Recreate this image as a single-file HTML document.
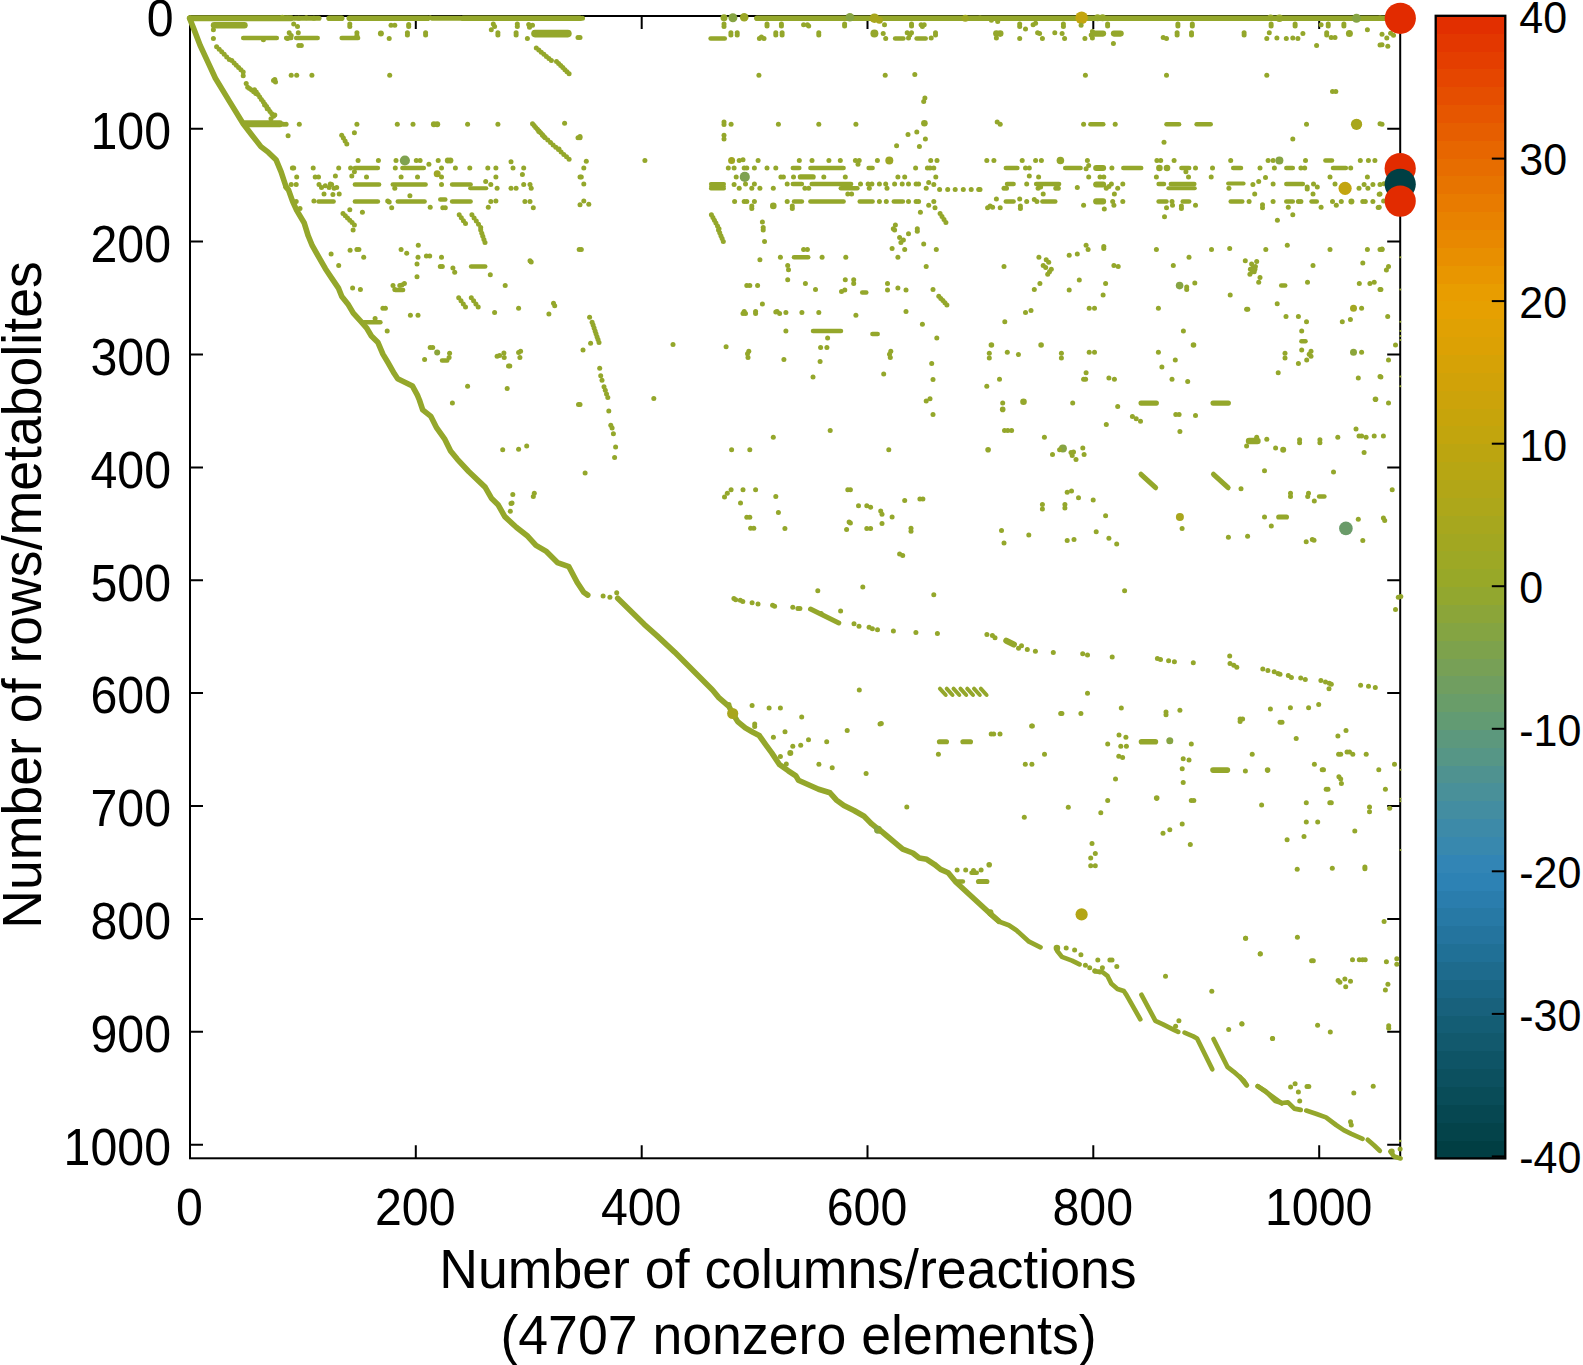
<!DOCTYPE html>
<html><head><meta charset="utf-8"><title>Sparse matrix</title>
<style>
html,body{margin:0;padding:0;background:#fff}
svg{display:block}
text{font-family:"Liberation Sans",Arial,Helvetica,sans-serif;font-size:48.3px;fill:#000}
text.cb{font-size:43px}
text.lab{font-size:53px}
.s{stroke:#94a72b;stroke-linecap:round;stroke-linejoin:round;fill:none}
</style></head><body>
<svg width="1583" height="1365" viewBox="0 0 1583 1365">
<rect width="1583" height="1365" fill="#fff"/>
<g shape-rendering="crispEdges">
<rect x="1435.7" y="15.80" width="69.59999999999991" height="18.35" fill="rgb(226,47,0)"/>
<rect x="1435.7" y="33.65" width="69.59999999999991" height="18.35" fill="rgb(227,55,0)"/>
<rect x="1435.7" y="51.51" width="69.59999999999991" height="18.35" fill="rgb(228,62,0)"/>
<rect x="1435.7" y="69.36" width="69.59999999999991" height="18.35" fill="rgb(229,70,0)"/>
<rect x="1435.7" y="87.21" width="69.59999999999991" height="18.35" fill="rgb(229,78,0)"/>
<rect x="1435.7" y="105.07" width="69.59999999999991" height="18.35" fill="rgb(230,86,0)"/>
<rect x="1435.7" y="122.92" width="69.59999999999991" height="18.35" fill="rgb(230,94,0)"/>
<rect x="1435.7" y="140.77" width="69.59999999999991" height="18.35" fill="rgb(231,102,0)"/>
<rect x="1435.7" y="158.63" width="69.59999999999991" height="18.35" fill="rgb(231,109,0)"/>
<rect x="1435.7" y="176.48" width="69.59999999999991" height="18.35" fill="rgb(231,116,0)"/>
<rect x="1435.7" y="194.33" width="69.59999999999991" height="18.35" fill="rgb(232,123,0)"/>
<rect x="1435.7" y="212.18" width="69.59999999999991" height="18.35" fill="rgb(232,130,0)"/>
<rect x="1435.7" y="230.04" width="69.59999999999991" height="18.35" fill="rgb(232,136,0)"/>
<rect x="1435.7" y="247.89" width="69.59999999999991" height="18.35" fill="rgb(232,143,0)"/>
<rect x="1435.7" y="265.74" width="69.59999999999991" height="18.35" fill="rgb(232,150,0)"/>
<rect x="1435.7" y="283.60" width="69.59999999999991" height="18.35" fill="rgb(232,157,0)"/>
<rect x="1435.7" y="301.45" width="69.59999999999991" height="18.35" fill="rgb(230,160,1)"/>
<rect x="1435.7" y="319.30" width="69.59999999999991" height="18.35" fill="rgb(224,161,3)"/>
<rect x="1435.7" y="337.16" width="69.59999999999991" height="18.35" fill="rgb(220,161,4)"/>
<rect x="1435.7" y="355.01" width="69.59999999999991" height="18.35" fill="rgb(214,162,6)"/>
<rect x="1435.7" y="372.86" width="69.59999999999991" height="18.35" fill="rgb(209,162,8)"/>
<rect x="1435.7" y="390.72" width="69.59999999999991" height="18.35" fill="rgb(204,163,10)"/>
<rect x="1435.7" y="408.57" width="69.59999999999991" height="18.35" fill="rgb(199,164,11)"/>
<rect x="1435.7" y="426.42" width="69.59999999999991" height="18.35" fill="rgb(194,165,13)"/>
<rect x="1435.7" y="444.28" width="69.59999999999991" height="18.35" fill="rgb(188,165,16)"/>
<rect x="1435.7" y="462.13" width="69.59999999999991" height="18.35" fill="rgb(183,166,19)"/>
<rect x="1435.7" y="479.98" width="69.59999999999991" height="18.35" fill="rgb(178,166,23)"/>
<rect x="1435.7" y="497.83" width="69.59999999999991" height="18.35" fill="rgb(173,167,26)"/>
<rect x="1435.7" y="515.69" width="69.59999999999991" height="18.35" fill="rgb(167,167,30)"/>
<rect x="1435.7" y="533.54" width="69.59999999999991" height="18.35" fill="rgb(162,167,33)"/>
<rect x="1435.7" y="551.39" width="69.59999999999991" height="18.35" fill="rgb(157,168,37)"/>
<rect x="1435.7" y="569.25" width="69.59999999999991" height="18.35" fill="rgb(152,168,40)"/>
<rect x="1435.7" y="587.10" width="69.59999999999991" height="18.35" fill="rgb(146,167,47)"/>
<rect x="1435.7" y="604.95" width="69.59999999999991" height="18.35" fill="rgb(139,165,57)"/>
<rect x="1435.7" y="622.81" width="69.59999999999991" height="18.35" fill="rgb(132,164,66)"/>
<rect x="1435.7" y="640.66" width="69.59999999999991" height="18.35" fill="rgb(125,162,76)"/>
<rect x="1435.7" y="658.51" width="69.59999999999991" height="18.35" fill="rgb(119,160,86)"/>
<rect x="1435.7" y="676.37" width="69.59999999999991" height="18.35" fill="rgb(112,158,96)"/>
<rect x="1435.7" y="694.22" width="69.59999999999991" height="18.35" fill="rgb(105,157,105)"/>
<rect x="1435.7" y="712.07" width="69.59999999999991" height="18.35" fill="rgb(98,155,115)"/>
<rect x="1435.7" y="729.93" width="69.59999999999991" height="18.35" fill="rgb(92,152,125)"/>
<rect x="1435.7" y="747.78" width="69.59999999999991" height="18.35" fill="rgb(86,150,134)"/>
<rect x="1435.7" y="765.63" width="69.59999999999991" height="18.35" fill="rgb(79,146,144)"/>
<rect x="1435.7" y="783.48" width="69.59999999999991" height="18.35" fill="rgb(73,144,153)"/>
<rect x="1435.7" y="801.34" width="69.59999999999991" height="18.35" fill="rgb(67,141,161)"/>
<rect x="1435.7" y="819.19" width="69.59999999999991" height="18.35" fill="rgb(61,138,168)"/>
<rect x="1435.7" y="837.04" width="69.59999999999991" height="18.35" fill="rgb(56,136,174)"/>
<rect x="1435.7" y="854.90" width="69.59999999999991" height="18.35" fill="rgb(50,133,181)"/>
<rect x="1435.7" y="872.75" width="69.59999999999991" height="18.35" fill="rgb(45,130,180)"/>
<rect x="1435.7" y="890.60" width="69.59999999999991" height="18.35" fill="rgb(42,125,173)"/>
<rect x="1435.7" y="908.46" width="69.59999999999991" height="18.35" fill="rgb(39,121,165)"/>
<rect x="1435.7" y="926.31" width="69.59999999999991" height="18.35" fill="rgb(36,116,158)"/>
<rect x="1435.7" y="944.16" width="69.59999999999991" height="18.35" fill="rgb(32,112,150)"/>
<rect x="1435.7" y="962.02" width="69.59999999999991" height="18.35" fill="rgb(30,107,141)"/>
<rect x="1435.7" y="979.87" width="69.59999999999991" height="18.35" fill="rgb(26,102,133)"/>
<rect x="1435.7" y="997.72" width="69.59999999999991" height="18.35" fill="rgb(24,97,124)"/>
<rect x="1435.7" y="1015.58" width="69.59999999999991" height="18.35" fill="rgb(20,93,116)"/>
<rect x="1435.7" y="1033.43" width="69.59999999999991" height="18.35" fill="rgb(18,89,109)"/>
<rect x="1435.7" y="1051.28" width="69.59999999999991" height="18.35" fill="rgb(14,84,102)"/>
<rect x="1435.7" y="1069.13" width="69.59999999999991" height="18.35" fill="rgb(12,80,95)"/>
<rect x="1435.7" y="1086.99" width="69.59999999999991" height="18.35" fill="rgb(9,76,88)"/>
<rect x="1435.7" y="1104.84" width="69.59999999999991" height="18.35" fill="rgb(6,71,81)"/>
<rect x="1435.7" y="1122.69" width="69.59999999999991" height="18.35" fill="rgb(4,67,74)"/>
<rect x="1435.7" y="1140.55" width="69.59999999999991" height="18.35" fill="rgb(1,62,67)"/>
</g>
<g stroke="#000" stroke-width="2" fill="none">
<rect x="190.0" y="16.0" width="1210.2" height="1142.3" fill="none"/>
<path d="M415.8 1158.3v-13.0M415.8 16.0v13.0"/>
<path d="M641.7 1158.3v-13.0M641.7 16.0v13.0"/>
<path d="M867.5 1158.3v-13.0M867.5 16.0v13.0"/>
<path d="M1093.3 1158.3v-13.0M1093.3 16.0v13.0"/>
<path d="M1319.2 1158.3v-13.0M1319.2 16.0v13.0"/>
<path d="M190.0 128.7h13.0M1400.2 128.7h-13.0"/>
<path d="M190.0 241.6h13.0M1400.2 241.6h-13.0"/>
<path d="M190.0 354.5h13.0M1400.2 354.5h-13.0"/>
<path d="M190.0 467.4h13.0M1400.2 467.4h-13.0"/>
<path d="M190.0 580.2h13.0M1400.2 580.2h-13.0"/>
<path d="M190.0 693.1h13.0M1400.2 693.1h-13.0"/>
<path d="M190.0 806.0h13.0M1400.2 806.0h-13.0"/>
<path d="M190.0 918.9h13.0M1400.2 918.9h-13.0"/>
<path d="M190.0 1031.8h13.0M1400.2 1031.8h-13.0"/>
<path d="M190.0 1144.7h13.0M1400.2 1144.7h-13.0"/>
<path d="M1505.3 1156.4h-13.5"/>
<path d="M1505.3 1013.9h-13.5"/>
<path d="M1505.3 871.3h-13.5"/>
<path d="M1505.3 728.8h-13.5"/>
<path d="M1505.3 586.2h-13.5"/>
<path d="M1505.3 443.7h-13.5"/>
<path d="M1505.3 301.1h-13.5"/>
<path d="M1505.3 158.6h-13.5"/>
<path d="M1505.3 16.0h-13.5"/>
<rect x="1435.7" y="15.8" width="69.6" height="1142.6" fill="none" stroke-width="2.3"/>
</g>
<g fill="#94a72b">
<polyline class="s" points="189.6,18.2 193.9,29.1 200.2,45.5 207.8,61.9 215.4,78.3 229.3,101.1 243.2,123.8 252.0,135.2 260.9,146.6 268.4,152.4 276.0,159.7 281.1,171.8 286.1,187.0" stroke-width="5.6"/>
<line class="s" x1="190.1" y1="18.3" x2="291.2" y2="18.3" stroke-width="6.1"/>
<line class="s" x1="295.0" y1="18.3" x2="319.0" y2="18.3" stroke-width="5.1"/>
<line class="s" x1="329.1" y1="18.3" x2="341.7" y2="18.3" stroke-width="5.6"/>
<line class="s" x1="349.3" y1="18.3" x2="427.6" y2="18.3" stroke-width="5.6"/>
<line class="s" x1="432.7" y1="18.3" x2="460.5" y2="18.3" stroke-width="5.1"/>
<line class="s" x1="463.0" y1="18.3" x2="580.0" y2="18.3" stroke-width="5.6"/>
<circle cx="282.3" cy="17.2" r="2.5"/>
<circle cx="287.4" cy="18.2" r="2.5"/>
<circle cx="298.8" cy="18.2" r="2.5"/>
<circle cx="306.3" cy="17.7" r="2.5"/>
<circle cx="313.9" cy="18.2" r="2.5"/>
<circle cx="430.2" cy="17.7" r="2.5"/>
<line class="s" x1="214.1" y1="25.3" x2="244.4" y2="25.3" stroke-width="6.6"/>
<circle cx="293.7" cy="24.0" r="2.5"/>
<circle cx="297.5" cy="26.5" r="2.5"/>
<circle cx="349.8" cy="24.0" r="2.5"/>
<circle cx="349.8" cy="26.5" r="2.5"/>
<circle cx="391.0" cy="25.3" r="2.5"/>
<circle cx="394.8" cy="25.3" r="2.5"/>
<circle cx="408.7" cy="24.5" r="2.5"/>
<circle cx="408.7" cy="26.5" r="2.5"/>
<circle cx="493.3" cy="24.0" r="2.5"/>
<circle cx="494.6" cy="26.5" r="2.5"/>
<circle cx="517.3" cy="24.0" r="2.5"/>
<circle cx="517.3" cy="26.5" r="2.5"/>
<circle cx="528.7" cy="24.5" r="2.5"/>
<circle cx="532.5" cy="25.3" r="2.5"/>
<circle cx="529.5" cy="27.3" r="2.5"/>
<circle cx="289.2" cy="32.8" r="2.5"/>
<circle cx="298.3" cy="32.8" r="2.5"/>
<circle cx="356.9" cy="32.8" r="2.5"/>
<circle cx="407.4" cy="32.8" r="2.5"/>
<circle cx="407.4" cy="34.9" r="2.5"/>
<circle cx="425.6" cy="32.8" r="2.5"/>
<circle cx="425.6" cy="34.9" r="2.5"/>
<circle cx="497.9" cy="32.8" r="2.5"/>
<circle cx="497.9" cy="34.9" r="2.5"/>
<circle cx="516.1" cy="32.8" r="2.5"/>
<circle cx="516.1" cy="34.9" r="2.5"/>
<circle cx="213.4" cy="29.8" r="2.5"/>
<circle cx="380.9" cy="33.6" r="3.0"/>
<line class="s" x1="535.0" y1="33.6" x2="567.9" y2="33.6" stroke-width="7.6"/>
<circle cx="213.4" cy="38.4" r="2.5"/>
<circle cx="263.4" cy="39.7" r="2.5"/>
<circle cx="291.2" cy="35.4" r="2.5"/>
<circle cx="389.2" cy="38.4" r="2.5"/>
<circle cx="527.4" cy="38.4" r="2.5"/>
<circle cx="578.0" cy="37.4" r="2.5"/>
<circle cx="287.4" cy="38.4" r="2.5"/>
<circle cx="491.3" cy="29.8" r="2.5"/>
<line class="s" x1="243.2" y1="37.9" x2="276.8" y2="37.9" stroke-width="4.5"/>
<line class="s" x1="286.1" y1="37.9" x2="291.2" y2="37.9" stroke-width="4.5"/>
<line class="s" x1="296.2" y1="37.9" x2="317.7" y2="37.9" stroke-width="4.5"/>
<line class="s" x1="341.7" y1="37.9" x2="358.1" y2="37.9" stroke-width="4.5"/>
<circle cx="356.9" cy="35.4" r="2.5"/>
<circle cx="298.8" cy="45.5" r="2.5"/>
<circle cx="301.3" cy="45.5" r="2.5"/>
<circle cx="216.6" cy="46.7" r="2.5"/>
<circle cx="219.2" cy="49.3" r="2.5"/>
<circle cx="221.7" cy="51.8" r="2.5"/>
<circle cx="224.2" cy="54.3" r="2.5"/>
<circle cx="226.7" cy="56.9" r="2.5"/>
<circle cx="229.3" cy="59.4" r="2.5"/>
<circle cx="231.8" cy="60.6" r="2.5"/>
<circle cx="234.1" cy="62.9" r="2.5"/>
<circle cx="236.3" cy="65.2" r="2.5"/>
<circle cx="238.6" cy="67.5" r="2.5"/>
<circle cx="240.9" cy="69.7" r="2.5"/>
<circle cx="243.2" cy="72.0" r="2.5"/>
<circle cx="243.2" cy="75.8" r="2.5"/>
<circle cx="246.2" cy="83.4" r="2.5"/>
<circle cx="247.7" cy="87.2" r="2.5"/>
<circle cx="249.5" cy="88.4" r="2.5"/>
<circle cx="251.6" cy="90.1" r="2.5"/>
<circle cx="253.7" cy="91.8" r="2.5"/>
<circle cx="255.8" cy="93.5" r="2.5"/>
<circle cx="254.5" cy="89.7" r="2.5"/>
<circle cx="256.3" cy="92.1" r="2.5"/>
<circle cx="258.0" cy="94.5" r="2.5"/>
<circle cx="259.7" cy="96.9" r="2.5"/>
<circle cx="261.4" cy="99.4" r="2.5"/>
<circle cx="263.2" cy="101.8" r="2.5"/>
<circle cx="264.9" cy="104.2" r="2.5"/>
<circle cx="266.6" cy="106.6" r="2.5"/>
<circle cx="268.3" cy="109.0" r="2.5"/>
<circle cx="270.0" cy="111.4" r="2.5"/>
<circle cx="271.8" cy="113.8" r="2.5"/>
<circle cx="273.5" cy="116.2" r="2.5"/>
<circle cx="267.2" cy="108.7" r="2.5"/>
<circle cx="271.0" cy="118.8" r="2.5"/>
<circle cx="274.8" cy="115.0" r="2.5"/>
<circle cx="264.6" cy="104.9" r="2.5"/>
<circle cx="274.8" cy="79.6" r="2.5"/>
<circle cx="275.5" cy="82.1" r="2.5"/>
<circle cx="273.5" cy="80.4" r="2.5"/>
<circle cx="291.2" cy="75.3" r="2.5"/>
<circle cx="296.7" cy="75.3" r="2.5"/>
<circle cx="311.9" cy="75.3" r="2.5"/>
<circle cx="389.7" cy="75.3" r="2.5"/>
<line class="s" x1="245.2" y1="123.8" x2="279.8" y2="123.8" stroke-width="7.1"/>
<circle cx="283.6" cy="124.3" r="2.5"/>
<circle cx="286.1" cy="124.3" r="2.5"/>
<circle cx="299.3" cy="124.3" r="2.5"/>
<circle cx="356.9" cy="124.3" r="2.5"/>
<circle cx="397.3" cy="124.3" r="2.5"/>
<circle cx="413.0" cy="124.3" r="2.5"/>
<circle cx="467.6" cy="124.3" r="2.5"/>
<circle cx="497.9" cy="124.3" r="2.5"/>
<circle cx="564.6" cy="123.3" r="2.5"/>
<circle cx="433.9" cy="124.3" r="3.0"/>
<circle cx="437.2" cy="124.3" r="3.0"/>
<circle cx="288.1" cy="135.7" r="2.5"/>
<circle cx="354.4" cy="132.7" r="2.5"/>
<circle cx="341.7" cy="135.2" r="2.5"/>
<circle cx="343.4" cy="138.1" r="2.5"/>
<circle cx="345.1" cy="141.1" r="2.5"/>
<circle cx="346.8" cy="144.0" r="2.5"/>
<circle cx="536.3" cy="48.0" r="2.5"/>
<circle cx="538.8" cy="50.1" r="2.5"/>
<circle cx="541.3" cy="52.2" r="2.5"/>
<circle cx="543.9" cy="54.3" r="2.5"/>
<circle cx="546.4" cy="56.4" r="2.5"/>
<circle cx="548.9" cy="58.5" r="2.5"/>
<circle cx="551.4" cy="60.6" r="2.5"/>
<circle cx="556.5" cy="61.4" r="2.5"/>
<circle cx="558.6" cy="63.5" r="2.5"/>
<circle cx="560.7" cy="65.5" r="2.5"/>
<circle cx="562.8" cy="67.6" r="2.5"/>
<circle cx="564.9" cy="69.7" r="2.5"/>
<circle cx="567.0" cy="71.7" r="2.5"/>
<circle cx="569.1" cy="73.8" r="2.5"/>
<circle cx="532.5" cy="123.8" r="2.5"/>
<circle cx="534.1" cy="125.6" r="2.5"/>
<circle cx="535.7" cy="127.4" r="2.5"/>
<circle cx="537.4" cy="129.2" r="2.5"/>
<circle cx="539.0" cy="131.0" r="2.5"/>
<circle cx="540.6" cy="132.8" r="2.5"/>
<circle cx="542.2" cy="134.6" r="2.5"/>
<circle cx="543.9" cy="136.4" r="2.5"/>
<circle cx="545.1" cy="137.7" r="2.5"/>
<circle cx="547.8" cy="140.1" r="2.5"/>
<circle cx="550.5" cy="142.5" r="2.5"/>
<circle cx="553.1" cy="144.9" r="2.5"/>
<circle cx="555.8" cy="147.3" r="2.5"/>
<circle cx="558.5" cy="149.6" r="2.5"/>
<circle cx="561.1" cy="152.0" r="2.5"/>
<circle cx="563.8" cy="154.4" r="2.5"/>
<circle cx="566.5" cy="156.8" r="2.5"/>
<circle cx="569.1" cy="159.2" r="2.5"/>
<circle cx="538.8" cy="131.4" r="2.5"/>
<circle cx="542.6" cy="135.2" r="2.5"/>
<circle cx="559.0" cy="149.1" r="2.5"/>
<circle cx="578.0" cy="137.7" r="2.5"/>
<circle cx="580.0" cy="136.4" r="2.5"/>
<circle cx="358.1" cy="160.5" r="2.5"/>
<circle cx="378.4" cy="160.5" r="2.5"/>
<circle cx="396.0" cy="160.5" r="2.5"/>
<circle cx="416.3" cy="160.5" r="2.5"/>
<circle cx="420.1" cy="160.5" r="2.5"/>
<circle cx="438.2" cy="160.5" r="2.5"/>
<circle cx="511.0" cy="161.7" r="2.5"/>
<circle cx="404.9" cy="160.5" r="5.1" fill="#7fa24f"/>
<circle cx="447.8" cy="160.5" r="3.0"/>
<circle cx="450.4" cy="160.5" r="3.0"/>
<circle cx="292.4" cy="168.0" r="2.5"/>
<circle cx="293.7" cy="168.0" r="2.5"/>
<circle cx="313.2" cy="168.0" r="2.5"/>
<circle cx="338.7" cy="168.0" r="2.5"/>
<circle cx="350.6" cy="168.0" r="2.5"/>
<circle cx="395.3" cy="168.0" r="2.5"/>
<circle cx="428.9" cy="164.2" r="2.5"/>
<circle cx="441.5" cy="168.0" r="2.5"/>
<circle cx="455.4" cy="168.0" r="2.5"/>
<circle cx="469.8" cy="168.0" r="2.5"/>
<circle cx="487.8" cy="168.0" r="2.5"/>
<circle cx="495.9" cy="168.0" r="2.5"/>
<circle cx="513.0" cy="168.0" r="2.5"/>
<circle cx="523.7" cy="168.0" r="2.5"/>
<line class="s" x1="354.9" y1="168.0" x2="377.9" y2="168.0" stroke-width="4.5"/>
<line class="s" x1="402.4" y1="168.0" x2="423.8" y2="168.0" stroke-width="4.5"/>
<circle cx="296.7" cy="176.9" r="2.5"/>
<circle cx="315.2" cy="176.9" r="2.5"/>
<circle cx="318.5" cy="176.9" r="2.5"/>
<circle cx="335.4" cy="176.1" r="2.5"/>
<circle cx="351.8" cy="176.1" r="2.5"/>
<circle cx="354.4" cy="171.8" r="2.5"/>
<circle cx="366.5" cy="176.9" r="2.5"/>
<circle cx="401.1" cy="176.9" r="2.5"/>
<circle cx="417.5" cy="176.9" r="2.5"/>
<circle cx="441.5" cy="176.9" r="2.5"/>
<circle cx="495.9" cy="176.9" r="2.5"/>
<circle cx="522.4" cy="174.4" r="2.5"/>
<circle cx="580.0" cy="176.9" r="2.5"/>
<circle cx="437.2" cy="173.8" r="3.5" fill="#9ea724"/>
<circle cx="291.2" cy="184.5" r="2.5"/>
<circle cx="296.2" cy="184.5" r="2.5"/>
<circle cx="441.5" cy="184.5" r="2.5"/>
<circle cx="485.7" cy="181.4" r="2.5"/>
<circle cx="490.8" cy="184.5" r="2.5"/>
<circle cx="497.1" cy="188.3" r="2.5"/>
<circle cx="511.0" cy="188.3" r="2.5"/>
<circle cx="516.1" cy="188.3" r="2.5"/>
<circle cx="523.7" cy="184.5" r="2.5"/>
<circle cx="530.0" cy="184.5" r="2.5"/>
<circle cx="531.2" cy="188.3" r="2.5"/>
<circle cx="287.4" cy="188.3" r="2.5"/>
<circle cx="319.0" cy="184.5" r="2.5"/>
<circle cx="321.5" cy="187.5" r="2.5"/>
<circle cx="325.3" cy="185.7" r="2.5"/>
<circle cx="329.1" cy="187.5" r="2.5"/>
<circle cx="331.6" cy="184.5" r="2.5"/>
<circle cx="334.1" cy="188.3" r="2.5"/>
<circle cx="336.7" cy="187.5" r="2.5"/>
<circle cx="330.3" cy="184.0" r="2.5"/>
<line class="s" x1="354.9" y1="184.5" x2="379.1" y2="184.5" stroke-width="4.5"/>
<line class="s" x1="392.8" y1="184.5" x2="425.6" y2="184.5" stroke-width="4.5"/>
<circle cx="394.8" cy="188.3" r="2.5"/>
<line class="s" x1="452.1" y1="184.5" x2="470.6" y2="184.5" stroke-width="4.5"/>
<line class="s" x1="470.1" y1="188.3" x2="486.3" y2="188.3" stroke-width="4.0"/>
<circle cx="324.0" cy="194.1" r="2.5"/>
<circle cx="332.9" cy="194.6" r="2.5"/>
<circle cx="339.2" cy="194.1" r="2.5"/>
<circle cx="409.9" cy="195.8" r="2.5"/>
<circle cx="313.9" cy="200.9" r="2.5"/>
<circle cx="387.7" cy="200.9" r="2.5"/>
<circle cx="389.2" cy="202.1" r="2.5"/>
<circle cx="430.2" cy="207.2" r="2.5"/>
<circle cx="490.8" cy="201.4" r="2.5"/>
<circle cx="495.9" cy="200.9" r="2.5"/>
<circle cx="524.9" cy="201.4" r="2.5"/>
<circle cx="530.0" cy="201.4" r="2.5"/>
<circle cx="533.3" cy="207.7" r="2.5"/>
<circle cx="488.3" cy="207.2" r="2.5"/>
<circle cx="391.7" cy="207.7" r="2.5"/>
<circle cx="442.8" cy="207.7" r="2.5"/>
<circle cx="445.3" cy="207.7" r="2.5"/>
<circle cx="296.2" cy="201.4" r="2.5"/>
<circle cx="300.0" cy="208.5" r="2.5"/>
<line class="s" x1="318.5" y1="201.4" x2="333.6" y2="201.4" stroke-width="4.5"/>
<line class="s" x1="354.9" y1="201.4" x2="377.9" y2="201.4" stroke-width="4.5"/>
<line class="s" x1="397.8" y1="201.4" x2="424.6" y2="201.4" stroke-width="4.5"/>
<line class="s" x1="440.3" y1="199.6" x2="445.3" y2="199.6" stroke-width="4.5"/>
<line class="s" x1="452.1" y1="201.4" x2="470.6" y2="201.4" stroke-width="4.5"/>
<circle cx="343.0" cy="213.5" r="2.5"/>
<circle cx="345.3" cy="215.8" r="2.5"/>
<circle cx="347.5" cy="218.1" r="2.5"/>
<circle cx="349.8" cy="220.3" r="2.5"/>
<circle cx="352.1" cy="222.6" r="2.5"/>
<circle cx="354.4" cy="224.9" r="2.5"/>
<circle cx="349.8" cy="209.7" r="2.5"/>
<circle cx="362.4" cy="212.3" r="2.5"/>
<circle cx="459.2" cy="214.8" r="2.5"/>
<circle cx="461.3" cy="217.7" r="2.5"/>
<circle cx="463.4" cy="220.7" r="2.5"/>
<circle cx="465.5" cy="223.6" r="2.5"/>
<circle cx="471.9" cy="214.8" r="2.5"/>
<circle cx="474.1" cy="217.9" r="2.5"/>
<circle cx="476.3" cy="221.1" r="2.5"/>
<circle cx="478.5" cy="224.3" r="2.5"/>
<circle cx="480.7" cy="227.4" r="2.5"/>
<circle cx="582.5" cy="18.2" r="2.5"/>
<circle cx="580.0" cy="37.4" r="2.5"/>
<circle cx="580.0" cy="137.7" r="2.5"/>
<circle cx="586.3" cy="161.2" r="2.5"/>
<circle cx="583.8" cy="168.0" r="2.5"/>
<circle cx="581.3" cy="176.9" r="2.5"/>
<circle cx="583.8" cy="184.0" r="2.5"/>
<circle cx="583.8" cy="200.9" r="2.5"/>
<circle cx="588.8" cy="204.2" r="2.5"/>
<circle cx="580.0" cy="204.7" r="2.5"/>
<circle cx="644.9" cy="160.5" r="2.5"/>
<line class="s" x1="756.9" y1="18.3" x2="980.0" y2="18.3" stroke-width="5.6"/>
<circle cx="724.0" cy="17.7" r="3.5"/>
<circle cx="732.9" cy="17.7" r="4.5" fill="#86a443"/>
<circle cx="744.2" cy="17.2" r="4.3" fill="#9ba726"/>
<circle cx="849.9" cy="17.2" r="4.3" fill="#86a443"/>
<circle cx="874.4" cy="18.2" r="4.8" fill="#a8a61d"/>
<circle cx="879.4" cy="20.2" r="3.5" fill="#a8a61d"/>
<circle cx="965.3" cy="18.2" r="3.5" fill="#9ea723"/>
<circle cx="724.0" cy="24.0" r="2.5"/>
<circle cx="724.0" cy="26.5" r="2.5"/>
<circle cx="767.0" cy="24.0" r="2.5"/>
<circle cx="767.0" cy="26.0" r="2.5"/>
<circle cx="781.4" cy="24.0" r="2.5"/>
<circle cx="781.4" cy="26.0" r="2.5"/>
<circle cx="803.6" cy="24.8" r="2.5"/>
<circle cx="807.4" cy="24.8" r="2.5"/>
<circle cx="808.7" cy="26.0" r="2.5"/>
<circle cx="844.6" cy="24.0" r="2.5"/>
<circle cx="844.6" cy="26.0" r="2.5"/>
<circle cx="884.5" cy="24.8" r="2.5"/>
<circle cx="911.5" cy="24.0" r="2.5"/>
<circle cx="911.5" cy="26.0" r="2.5"/>
<circle cx="921.1" cy="24.8" r="2.5"/>
<circle cx="924.2" cy="24.8" r="2.5"/>
<circle cx="922.4" cy="26.5" r="2.5"/>
<circle cx="730.9" cy="32.8" r="2.5"/>
<circle cx="730.9" cy="34.9" r="2.5"/>
<circle cx="737.2" cy="32.8" r="2.5"/>
<circle cx="737.2" cy="34.9" r="2.5"/>
<circle cx="775.8" cy="32.8" r="2.5"/>
<circle cx="775.8" cy="34.9" r="2.5"/>
<circle cx="782.1" cy="32.8" r="2.5"/>
<circle cx="782.1" cy="34.9" r="2.5"/>
<circle cx="818.8" cy="32.8" r="2.5"/>
<circle cx="818.8" cy="34.9" r="2.5"/>
<circle cx="883.2" cy="33.6" r="2.5"/>
<circle cx="907.2" cy="32.8" r="2.5"/>
<circle cx="911.5" cy="32.8" r="2.5"/>
<circle cx="909.8" cy="34.9" r="2.5"/>
<circle cx="935.5" cy="32.8" r="2.5"/>
<circle cx="935.5" cy="34.9" r="2.5"/>
<circle cx="874.4" cy="33.6" r="4.0"/>
<line class="s" x1="710.6" y1="38.4" x2="724.8" y2="38.4" stroke-width="4.5"/>
<circle cx="759.4" cy="38.4" r="2.5"/>
<circle cx="764.0" cy="38.4" r="2.5"/>
<circle cx="761.4" cy="36.9" r="2.5"/>
<circle cx="885.7" cy="38.4" r="2.5"/>
<circle cx="908.5" cy="37.9" r="2.5"/>
<circle cx="931.2" cy="37.9" r="2.5"/>
<line class="s" x1="895.1" y1="38.4" x2="903.4" y2="38.4" stroke-width="4.5"/>
<line class="s" x1="916.6" y1="38.4" x2="925.7" y2="38.4" stroke-width="4.5"/>
<circle cx="758.9" cy="75.3" r="2.5"/>
<circle cx="885.2" cy="75.3" r="2.5"/>
<circle cx="914.8" cy="74.5" r="2.5"/>
<circle cx="924.9" cy="98.0" r="2.5"/>
<circle cx="923.7" cy="101.6" r="2.5"/>
<circle cx="724.0" cy="122.0" r="2.5"/>
<circle cx="724.0" cy="124.6" r="2.5"/>
<circle cx="731.1" cy="124.3" r="2.5"/>
<circle cx="778.4" cy="124.3" r="2.5"/>
<circle cx="818.8" cy="124.3" r="2.5"/>
<circle cx="855.9" cy="124.3" r="2.5"/>
<circle cx="924.4" cy="123.3" r="3.3"/>
<circle cx="724.0" cy="135.2" r="2.5"/>
<circle cx="724.0" cy="139.0" r="2.5"/>
<circle cx="908.0" cy="134.4" r="2.5"/>
<circle cx="916.8" cy="131.9" r="2.5"/>
<circle cx="925.4" cy="139.0" r="2.5"/>
<circle cx="896.6" cy="145.8" r="2.5"/>
<circle cx="919.4" cy="146.6" r="2.5"/>
<circle cx="731.6" cy="160.5" r="3.5" fill="#a0a621"/>
<circle cx="739.2" cy="160.5" r="2.5"/>
<circle cx="743.0" cy="159.7" r="2.5"/>
<circle cx="758.1" cy="160.5" r="2.5"/>
<circle cx="799.3" cy="160.5" r="2.5"/>
<circle cx="812.0" cy="160.5" r="2.5"/>
<circle cx="828.9" cy="160.5" r="2.5"/>
<circle cx="840.3" cy="160.5" r="2.5"/>
<circle cx="855.4" cy="160.5" r="2.5"/>
<circle cx="859.2" cy="160.5" r="2.5"/>
<circle cx="858.0" cy="164.2" r="2.5"/>
<circle cx="877.4" cy="160.5" r="2.5"/>
<circle cx="930.7" cy="160.5" r="2.5"/>
<circle cx="937.0" cy="160.5" r="2.5"/>
<circle cx="889.3" cy="160.5" r="4.0" fill="#9da724"/>
<circle cx="728.3" cy="168.0" r="2.5"/>
<circle cx="734.1" cy="168.0" r="2.5"/>
<circle cx="744.2" cy="168.0" r="2.5"/>
<circle cx="746.8" cy="168.0" r="2.5"/>
<circle cx="754.4" cy="168.0" r="2.5"/>
<circle cx="767.0" cy="168.0" r="2.5"/>
<circle cx="775.8" cy="168.0" r="2.5"/>
<circle cx="915.6" cy="168.0" r="2.5"/>
<circle cx="927.4" cy="168.0" r="2.5"/>
<circle cx="930.0" cy="168.0" r="2.5"/>
<circle cx="933.8" cy="168.0" r="2.5"/>
<line class="s" x1="792.8" y1="168.0" x2="799.3" y2="168.0" stroke-width="4.5"/>
<line class="s" x1="810.4" y1="168.0" x2="843.6" y2="168.0" stroke-width="4.5"/>
<line class="s" x1="868.6" y1="168.0" x2="872.6" y2="168.0" stroke-width="4.5"/>
<circle cx="736.2" cy="176.9" r="2.5"/>
<circle cx="780.9" cy="176.9" r="2.5"/>
<circle cx="783.4" cy="176.9" r="2.5"/>
<circle cx="793.5" cy="176.9" r="2.5"/>
<circle cx="823.8" cy="176.9" r="2.5"/>
<circle cx="845.3" cy="176.9" r="2.5"/>
<circle cx="897.9" cy="176.9" r="2.5"/>
<circle cx="904.7" cy="176.9" r="2.5"/>
<circle cx="935.8" cy="176.9" r="2.5"/>
<circle cx="744.8" cy="176.9" r="5.1" fill="#7fa24f"/>
<line class="s" x1="800.3" y1="176.9" x2="813.2" y2="176.9" stroke-width="5.1"/>
<line class="s" x1="710.9" y1="184.0" x2="724.0" y2="184.0" stroke-width="4.0"/>
<line class="s" x1="710.9" y1="188.5" x2="724.0" y2="188.5" stroke-width="4.0"/>
<line class="s" x1="710.9" y1="186.2" x2="724.0" y2="186.2" stroke-width="3.5"/>
<circle cx="734.1" cy="184.5" r="2.5"/>
<circle cx="745.5" cy="184.0" r="2.5"/>
<circle cx="754.4" cy="184.0" r="2.5"/>
<circle cx="739.2" cy="188.3" r="2.5"/>
<circle cx="751.8" cy="188.3" r="2.5"/>
<circle cx="759.9" cy="188.3" r="2.5"/>
<circle cx="773.3" cy="188.3" r="2.5"/>
<circle cx="787.2" cy="184.0" r="2.5"/>
<circle cx="804.9" cy="188.3" r="2.5"/>
<circle cx="808.7" cy="188.3" r="2.5"/>
<circle cx="860.5" cy="184.0" r="2.5"/>
<circle cx="868.1" cy="184.0" r="2.5"/>
<circle cx="871.9" cy="184.0" r="2.5"/>
<circle cx="869.3" cy="188.3" r="2.5"/>
<circle cx="879.4" cy="184.0" r="2.5"/>
<circle cx="885.7" cy="184.0" r="2.5"/>
<circle cx="887.0" cy="188.3" r="2.5"/>
<circle cx="894.6" cy="184.0" r="2.5"/>
<circle cx="902.2" cy="184.0" r="2.5"/>
<circle cx="908.5" cy="184.0" r="2.5"/>
<circle cx="916.1" cy="184.0" r="2.5"/>
<circle cx="918.6" cy="184.0" r="2.5"/>
<circle cx="928.7" cy="182.4" r="2.5"/>
<circle cx="933.8" cy="184.5" r="2.5"/>
<circle cx="926.2" cy="188.3" r="2.5"/>
<line class="s" x1="792.8" y1="184.0" x2="801.9" y2="184.0" stroke-width="4.5"/>
<line class="s" x1="811.7" y1="184.0" x2="851.1" y2="184.0" stroke-width="4.5"/>
<line class="s" x1="840.8" y1="188.3" x2="857.4" y2="188.3" stroke-width="4.5"/>
<circle cx="939.6" cy="189.5" r="2.5"/>
<circle cx="947.7" cy="189.5" r="2.5"/>
<circle cx="955.2" cy="189.5" r="2.5"/>
<circle cx="963.3" cy="189.5" r="2.5"/>
<circle cx="971.2" cy="189.5" r="2.5"/>
<circle cx="978.7" cy="189.5" r="2.5"/>
<circle cx="847.8" cy="194.1" r="2.5"/>
<circle cx="851.6" cy="194.1" r="2.5"/>
<circle cx="734.6" cy="201.4" r="2.5"/>
<circle cx="744.2" cy="201.4" r="2.5"/>
<circle cx="746.8" cy="201.4" r="2.5"/>
<circle cx="754.4" cy="201.4" r="2.5"/>
<circle cx="751.8" cy="205.9" r="2.5"/>
<circle cx="751.8" cy="208.5" r="2.5"/>
<circle cx="787.2" cy="201.4" r="2.5"/>
<circle cx="792.3" cy="205.9" r="2.5"/>
<circle cx="792.3" cy="208.5" r="2.5"/>
<circle cx="879.4" cy="201.4" r="2.5"/>
<circle cx="886.3" cy="201.4" r="2.5"/>
<circle cx="908.5" cy="201.4" r="2.5"/>
<circle cx="916.1" cy="201.4" r="2.5"/>
<circle cx="918.6" cy="201.4" r="2.5"/>
<circle cx="933.8" cy="201.4" r="2.5"/>
<circle cx="928.7" cy="205.2" r="2.5"/>
<circle cx="935.0" cy="207.7" r="2.5"/>
<circle cx="920.4" cy="212.3" r="2.5"/>
<circle cx="773.3" cy="205.9" r="3.3"/>
<line class="s" x1="794.0" y1="201.4" x2="801.9" y2="201.4" stroke-width="4.5"/>
<line class="s" x1="810.4" y1="201.4" x2="843.6" y2="201.4" stroke-width="4.5"/>
<line class="s" x1="859.7" y1="201.4" x2="872.6" y2="201.4" stroke-width="4.5"/>
<line class="s" x1="893.8" y1="201.4" x2="902.9" y2="201.4" stroke-width="4.5"/>
<circle cx="940.1" cy="213.5" r="2.5"/>
<circle cx="942.0" cy="216.5" r="2.5"/>
<circle cx="944.0" cy="219.4" r="2.5"/>
<circle cx="945.9" cy="222.4" r="2.5"/>
<circle cx="711.4" cy="214.8" r="2.5"/>
<circle cx="712.9" cy="217.6" r="2.5"/>
<circle cx="714.4" cy="220.3" r="2.5"/>
<circle cx="715.9" cy="223.1" r="2.5"/>
<circle cx="717.5" cy="225.9" r="2.5"/>
<circle cx="719.0" cy="228.7" r="2.5"/>
<circle cx="762.4" cy="221.9" r="2.5"/>
<circle cx="763.2" cy="227.4" r="2.5"/>
<circle cx="895.4" cy="224.9" r="2.5"/>
<circle cx="893.3" cy="228.7" r="2.5"/>
<circle cx="917.3" cy="228.7" r="2.5"/>
<line class="s" x1="980.0" y1="18.3" x2="1380.0" y2="18.3" stroke-width="5.6"/>
<circle cx="1081.6" cy="17.7" r="6.3" fill="#c3a50f"/>
<circle cx="1097.5" cy="17.7" r="3.5"/>
<circle cx="1102.6" cy="17.7" r="3.5"/>
<circle cx="1270.6" cy="17.7" r="3.3"/>
<circle cx="1279.4" cy="18.2" r="3.8"/>
<circle cx="1356.5" cy="18.2" r="4.5" fill="#86a443"/>
<circle cx="1019.7" cy="24.0" r="2.5"/>
<circle cx="1019.7" cy="26.5" r="2.5"/>
<circle cx="1033.1" cy="24.8" r="2.5"/>
<circle cx="1025.5" cy="29.1" r="2.5"/>
<circle cx="1035.6" cy="23.2" r="2.5"/>
<circle cx="1063.4" cy="24.0" r="2.5"/>
<circle cx="1063.4" cy="26.5" r="2.5"/>
<circle cx="1107.6" cy="24.0" r="2.5"/>
<circle cx="1107.6" cy="26.0" r="2.5"/>
<circle cx="1177.9" cy="24.0" r="2.5"/>
<circle cx="1177.9" cy="26.0" r="2.5"/>
<circle cx="1192.3" cy="24.0" r="2.5"/>
<circle cx="1192.3" cy="26.0" r="2.5"/>
<circle cx="1271.1" cy="24.0" r="2.5"/>
<circle cx="1271.1" cy="26.0" r="2.5"/>
<circle cx="1295.1" cy="24.0" r="2.5"/>
<circle cx="1295.1" cy="26.0" r="2.5"/>
<circle cx="1321.1" cy="24.8" r="2.5"/>
<circle cx="1328.2" cy="24.0" r="2.5"/>
<circle cx="1328.2" cy="26.0" r="2.5"/>
<circle cx="1343.9" cy="24.0" r="2.5"/>
<circle cx="1343.9" cy="26.0" r="2.5"/>
<circle cx="1367.4" cy="29.8" r="2.5"/>
<circle cx="1081.1" cy="25.3" r="2.5"/>
<circle cx="997.7" cy="21.5" r="2.5"/>
<circle cx="991.4" cy="20.2" r="2.5"/>
<circle cx="996.4" cy="33.6" r="3.3"/>
<circle cx="1000.2" cy="33.6" r="3.3"/>
<circle cx="996.4" cy="37.9" r="2.5"/>
<circle cx="1019.7" cy="38.4" r="2.5"/>
<circle cx="1037.6" cy="32.8" r="2.5"/>
<circle cx="1039.6" cy="33.4" r="2.5"/>
<circle cx="1042.4" cy="38.4" r="2.5"/>
<circle cx="1054.8" cy="32.8" r="2.5"/>
<circle cx="1062.1" cy="33.6" r="2.5"/>
<circle cx="1064.6" cy="38.4" r="2.5"/>
<circle cx="1084.9" cy="38.4" r="2.5"/>
<circle cx="1113.4" cy="43.5" r="2.5"/>
<circle cx="1163.2" cy="37.4" r="2.5"/>
<circle cx="1166.5" cy="38.4" r="2.5"/>
<circle cx="1177.1" cy="32.8" r="2.5"/>
<circle cx="1177.1" cy="34.9" r="2.5"/>
<circle cx="1191.5" cy="32.8" r="2.5"/>
<circle cx="1191.5" cy="34.9" r="2.5"/>
<circle cx="1244.1" cy="32.8" r="2.5"/>
<circle cx="1244.1" cy="34.9" r="2.5"/>
<circle cx="1269.3" cy="32.8" r="2.5"/>
<circle cx="1266.8" cy="38.4" r="2.5"/>
<circle cx="1276.9" cy="37.9" r="2.5"/>
<circle cx="1286.3" cy="38.4" r="2.5"/>
<circle cx="1292.8" cy="37.9" r="2.5"/>
<circle cx="1297.9" cy="38.4" r="2.5"/>
<circle cx="1302.9" cy="33.6" r="2.5"/>
<circle cx="1326.7" cy="32.8" r="2.5"/>
<circle cx="1326.7" cy="34.9" r="2.5"/>
<circle cx="1331.2" cy="37.4" r="2.5"/>
<circle cx="1335.0" cy="37.4" r="2.5"/>
<circle cx="1316.6" cy="45.5" r="2.5"/>
<circle cx="1380.0" cy="45.0" r="2.5"/>
<circle cx="1092.4" cy="31.6" r="2.5"/>
<circle cx="1092.4" cy="37.9" r="2.5"/>
<circle cx="1091.2" cy="34.9" r="2.5"/>
<line class="s" x1="1093.7" y1="33.6" x2="1103.1" y2="33.6" stroke-width="6.1"/>
<line class="s" x1="1113.9" y1="33.6" x2="1120.7" y2="33.6" stroke-width="6.1"/>
<circle cx="1349.4" cy="33.6" r="3.5"/>
<circle cx="1085.4" cy="75.3" r="2.5"/>
<circle cx="1166.5" cy="75.3" r="2.5"/>
<circle cx="1266.8" cy="75.3" r="2.5"/>
<circle cx="1332.5" cy="91.5" r="2.5"/>
<circle cx="1335.8" cy="91.5" r="2.5"/>
<circle cx="997.2" cy="122.0" r="2.5"/>
<circle cx="1000.2" cy="124.3" r="2.5"/>
<circle cx="1083.6" cy="124.3" r="2.5"/>
<circle cx="1115.2" cy="124.3" r="2.5"/>
<circle cx="1306.5" cy="124.3" r="2.5"/>
<circle cx="1380.0" cy="123.8" r="2.5"/>
<line class="s" x1="1090.4" y1="124.3" x2="1103.3" y2="124.3" stroke-width="4.5"/>
<line class="s" x1="1166.5" y1="124.3" x2="1179.1" y2="124.3" stroke-width="4.5"/>
<line class="s" x1="1196.6" y1="124.3" x2="1210.7" y2="124.3" stroke-width="4.5"/>
<circle cx="1356.5" cy="124.3" r="5.6" fill="#a8a61d"/>
<circle cx="1164.0" cy="142.3" r="2.5"/>
<circle cx="1292.8" cy="139.0" r="2.5"/>
<circle cx="986.8" cy="160.5" r="2.5"/>
<circle cx="993.9" cy="160.5" r="2.5"/>
<circle cx="1022.2" cy="160.5" r="2.5"/>
<circle cx="1035.6" cy="160.5" r="2.5"/>
<circle cx="1041.4" cy="160.5" r="2.5"/>
<circle cx="1087.4" cy="160.5" r="2.5"/>
<circle cx="1156.9" cy="160.5" r="2.5"/>
<circle cx="1160.7" cy="160.5" r="2.5"/>
<circle cx="1174.1" cy="160.5" r="2.5"/>
<circle cx="1230.7" cy="160.5" r="2.5"/>
<circle cx="1268.1" cy="160.5" r="2.5"/>
<circle cx="1273.1" cy="160.5" r="2.5"/>
<circle cx="1305.5" cy="160.5" r="2.5"/>
<circle cx="1360.3" cy="160.5" r="2.5"/>
<circle cx="1368.4" cy="160.5" r="2.5"/>
<circle cx="1374.9" cy="160.5" r="2.5"/>
<circle cx="1060.4" cy="160.5" r="3.8"/>
<circle cx="1279.4" cy="160.5" r="4.0" fill="#86a443"/>
<line class="s" x1="1325.4" y1="160.5" x2="1332.0" y2="160.5" stroke-width="4.5"/>
<line class="s" x1="1005.8" y1="168.0" x2="1017.4" y2="168.0" stroke-width="4.5"/>
<circle cx="1025.5" cy="168.0" r="2.5"/>
<circle cx="1029.3" cy="168.0" r="2.5"/>
<circle cx="1088.7" cy="165.5" r="2.5"/>
<circle cx="1086.1" cy="168.8" r="2.5"/>
<circle cx="1111.9" cy="168.0" r="2.5"/>
<circle cx="1185.9" cy="171.8" r="2.5"/>
<circle cx="1195.5" cy="168.0" r="2.5"/>
<circle cx="1212.5" cy="168.0" r="2.5"/>
<circle cx="1260.0" cy="168.0" r="2.5"/>
<circle cx="1274.4" cy="168.0" r="2.5"/>
<circle cx="1300.9" cy="168.0" r="2.5"/>
<circle cx="1304.7" cy="168.0" r="2.5"/>
<circle cx="1350.7" cy="168.0" r="2.5"/>
<line class="s" x1="1065.2" y1="168.0" x2="1080.6" y2="168.0" stroke-width="4.5"/>
<line class="s" x1="1096.2" y1="168.0" x2="1103.1" y2="168.0" stroke-width="6.1"/>
<line class="s" x1="1123.3" y1="168.0" x2="1141.2" y2="168.0" stroke-width="4.5"/>
<circle cx="1159.4" cy="168.0" r="3.3"/>
<circle cx="1167.0" cy="168.0" r="3.3"/>
<line class="s" x1="1181.4" y1="168.0" x2="1189.2" y2="168.0" stroke-width="4.5"/>
<line class="s" x1="1233.2" y1="168.0" x2="1241.0" y2="168.0" stroke-width="4.5"/>
<line class="s" x1="1286.3" y1="168.0" x2="1292.8" y2="168.0" stroke-width="4.5"/>
<line class="s" x1="1333.0" y1="168.0" x2="1345.9" y2="168.0" stroke-width="4.5"/>
<circle cx="1029.3" cy="176.1" r="2.5"/>
<circle cx="1038.6" cy="176.9" r="2.5"/>
<circle cx="1088.7" cy="176.9" r="2.5"/>
<circle cx="1100.0" cy="176.9" r="2.5"/>
<circle cx="1103.8" cy="176.9" r="2.5"/>
<circle cx="1156.4" cy="176.9" r="2.5"/>
<circle cx="1188.5" cy="176.9" r="2.5"/>
<circle cx="1211.2" cy="176.9" r="2.5"/>
<circle cx="1265.5" cy="177.6" r="2.5"/>
<circle cx="1330.0" cy="176.9" r="2.5"/>
<circle cx="1367.4" cy="176.9" r="2.5"/>
<circle cx="980.0" cy="189.5" r="2.5"/>
<circle cx="1004.0" cy="188.3" r="2.5"/>
<circle cx="1006.5" cy="188.3" r="2.5"/>
<circle cx="1026.7" cy="184.0" r="2.5"/>
<circle cx="1038.1" cy="188.3" r="2.5"/>
<circle cx="1040.6" cy="187.0" r="2.5"/>
<circle cx="1055.8" cy="188.3" r="2.5"/>
<circle cx="1058.3" cy="188.3" r="2.5"/>
<circle cx="1077.3" cy="187.5" r="2.5"/>
<circle cx="1111.4" cy="184.0" r="2.5"/>
<circle cx="1106.3" cy="188.3" r="2.5"/>
<circle cx="1108.9" cy="186.5" r="2.5"/>
<circle cx="1117.7" cy="188.3" r="2.5"/>
<circle cx="1122.8" cy="184.0" r="2.5"/>
<circle cx="1228.9" cy="188.3" r="2.5"/>
<circle cx="1252.9" cy="184.5" r="2.5"/>
<circle cx="1258.7" cy="181.4" r="2.5"/>
<circle cx="1273.1" cy="184.0" r="2.5"/>
<circle cx="1307.2" cy="187.0" r="2.5"/>
<circle cx="1307.2" cy="189.0" r="2.5"/>
<circle cx="1313.5" cy="184.0" r="2.5"/>
<circle cx="1317.3" cy="187.0" r="2.5"/>
<circle cx="1335.0" cy="184.0" r="2.5"/>
<circle cx="1359.0" cy="188.3" r="2.5"/>
<circle cx="1364.1" cy="184.5" r="2.5"/>
<circle cx="1367.9" cy="188.3" r="2.5"/>
<circle cx="1372.9" cy="184.5" r="2.5"/>
<circle cx="1380.0" cy="184.5" r="2.5"/>
<line class="s" x1="1007.0" y1="184.0" x2="1013.6" y2="184.0" stroke-width="4.5"/>
<line class="s" x1="1036.1" y1="184.0" x2="1059.1" y2="184.0" stroke-width="4.5"/>
<line class="s" x1="1096.2" y1="184.5" x2="1103.1" y2="184.5" stroke-width="6.1"/>
<line class="s" x1="1158.6" y1="184.0" x2="1164.0" y2="184.0" stroke-width="4.5"/>
<line class="s" x1="1170.8" y1="184.0" x2="1194.3" y2="184.0" stroke-width="4.5"/>
<line class="s" x1="1168.3" y1="188.3" x2="1194.8" y2="188.3" stroke-width="4.0"/>
<line class="s" x1="1228.1" y1="183.4" x2="1243.6" y2="183.4" stroke-width="4.0"/>
<line class="s" x1="1286.3" y1="184.0" x2="1302.9" y2="184.0" stroke-width="4.5"/>
<circle cx="1345.1" cy="188.3" r="6.6" fill="#c3a50f"/>
<circle cx="1043.2" cy="194.1" r="2.5"/>
<circle cx="1114.4" cy="194.1" r="2.5"/>
<circle cx="1254.7" cy="194.1" r="2.5"/>
<circle cx="1313.0" cy="194.1" r="2.5"/>
<circle cx="1380.0" cy="194.1" r="2.5"/>
<circle cx="996.4" cy="198.9" r="2.5"/>
<circle cx="987.6" cy="207.7" r="2.5"/>
<circle cx="992.6" cy="207.2" r="2.5"/>
<circle cx="1000.2" cy="207.7" r="2.5"/>
<circle cx="990.1" cy="205.9" r="2.5"/>
<circle cx="1019.7" cy="198.9" r="2.5"/>
<circle cx="1020.4" cy="205.9" r="2.5"/>
<circle cx="1020.4" cy="208.5" r="2.5"/>
<circle cx="1026.7" cy="201.4" r="2.5"/>
<circle cx="1034.3" cy="199.6" r="2.5"/>
<circle cx="1036.9" cy="201.4" r="2.5"/>
<circle cx="1083.6" cy="205.2" r="2.5"/>
<circle cx="1112.7" cy="201.4" r="2.5"/>
<circle cx="1113.9" cy="205.2" r="2.5"/>
<circle cx="1122.8" cy="201.4" r="2.5"/>
<circle cx="1104.3" cy="209.0" r="2.5"/>
<circle cx="1172.0" cy="201.4" r="2.5"/>
<circle cx="1166.5" cy="207.7" r="2.5"/>
<circle cx="1172.5" cy="205.2" r="2.5"/>
<circle cx="1181.4" cy="205.9" r="2.5"/>
<circle cx="1181.4" cy="208.5" r="2.5"/>
<circle cx="1195.5" cy="205.2" r="2.5"/>
<circle cx="1249.1" cy="201.4" r="2.5"/>
<circle cx="1262.5" cy="204.7" r="2.5"/>
<circle cx="1262.5" cy="207.7" r="2.5"/>
<circle cx="1273.1" cy="201.4" r="2.5"/>
<circle cx="1288.3" cy="207.2" r="2.5"/>
<circle cx="1298.4" cy="201.4" r="2.5"/>
<circle cx="1300.9" cy="201.4" r="2.5"/>
<circle cx="1321.1" cy="207.2" r="2.5"/>
<circle cx="1332.5" cy="201.4" r="2.5"/>
<circle cx="1341.3" cy="201.4" r="2.5"/>
<circle cx="1336.3" cy="205.2" r="2.5"/>
<circle cx="1362.8" cy="201.4" r="2.5"/>
<circle cx="1365.3" cy="201.4" r="2.5"/>
<circle cx="1372.9" cy="201.4" r="2.5"/>
<circle cx="1379.2" cy="207.2" r="2.5"/>
<line class="s" x1="1005.8" y1="201.4" x2="1013.6" y2="201.4" stroke-width="4.5"/>
<line class="s" x1="1042.4" y1="201.4" x2="1055.3" y2="201.4" stroke-width="4.5"/>
<line class="s" x1="1096.2" y1="201.4" x2="1103.1" y2="201.4" stroke-width="6.1"/>
<line class="s" x1="1158.6" y1="201.4" x2="1166.5" y2="201.4" stroke-width="4.5"/>
<line class="s" x1="1182.7" y1="201.4" x2="1189.2" y2="201.4" stroke-width="4.5"/>
<line class="s" x1="1230.7" y1="201.4" x2="1242.3" y2="201.4" stroke-width="4.5"/>
<line class="s" x1="1286.3" y1="201.4" x2="1292.8" y2="201.4" stroke-width="4.5"/>
<line class="s" x1="1311.5" y1="201.4" x2="1316.8" y2="201.4" stroke-width="4.5"/>
<circle cx="1351.4" cy="201.4" r="3.0"/>
<circle cx="1164.5" cy="216.8" r="2.5"/>
<circle cx="1292.8" cy="214.8" r="2.5"/>
<circle cx="1277.4" cy="220.3" r="2.5"/>
<circle cx="1382.0" cy="34.3" r="2.5"/>
<circle cx="1386.8" cy="38.1" r="2.5"/>
<circle cx="1393.5" cy="35.2" r="2.5"/>
<circle cx="1390.6" cy="33.3" r="2.5"/>
<circle cx="1382.0" cy="44.8" r="2.5"/>
<circle cx="1387.8" cy="46.3" r="2.5"/>
<circle cx="1382.0" cy="124.2" r="2.5"/>
<circle cx="1379.2" cy="194.3" r="2.5"/>
<circle cx="1378.2" cy="207.6" r="2.5"/>
<circle cx="1382.0" cy="249.1" r="2.5"/>
<circle cx="1384.0" cy="183.8" r="2.5"/>
<circle cx="1383.6" cy="201.0" r="2.5"/>
<circle cx="1356.9" cy="124.2" r="5.0" fill="#a8a61d"/>
<polyline class="s" points="286.1,187.0 288.5,189.9 292.6,201.4 296.7,210.4 304.1,222.7 308.2,235.8 312.3,245.7 318.8,257.2 325.4,268.7 332.0,278.6 338.6,288.4 341.8,296.6 348.4,304.8 353.3,313.1 359.9,320.4 366.5,327.8 371.4,336.0 378.0,342.6 382.9,354.1 387.8,362.3 394.4,373.8 397.7,378.8 404.3,382.0 412.5,386.1 417.4,395.2 419.4,400.0 422.7,409.9 430.9,416.4 436.7,427.9 444.9,439.4 450.6,450.9 457.2,459.1 468.7,471.5 485.1,487.1 491.7,498.6 498.3,505.1 504.8,516.6 516.3,527.3 527.8,536.3 536.0,545.4 545.9,551.1 557.4,562.6 568.9,566.7 577.1,582.3 583.7,592.2 587.8,595.1" stroke-width="5.6"/>
<circle cx="480.7" cy="230.0" r="2.5"/>
<circle cx="481.8" cy="233.2" r="2.5"/>
<circle cx="482.8" cy="236.3" r="2.5"/>
<circle cx="483.9" cy="239.5" r="2.5"/>
<circle cx="485.0" cy="242.6" r="2.5"/>
<circle cx="331.1" cy="254.0" r="2.5"/>
<circle cx="338.7" cy="265.4" r="2.5"/>
<circle cx="350.1" cy="250.2" r="2.5"/>
<circle cx="356.9" cy="249.5" r="2.5"/>
<circle cx="358.9" cy="249.5" r="2.5"/>
<circle cx="363.7" cy="257.3" r="2.5"/>
<circle cx="352.6" cy="288.1" r="2.5"/>
<circle cx="360.4" cy="289.4" r="2.5"/>
<circle cx="353.1" cy="230.0" r="2.5"/>
<circle cx="401.1" cy="249.5" r="2.5"/>
<circle cx="406.7" cy="253.2" r="2.5"/>
<circle cx="418.3" cy="245.2" r="2.5"/>
<circle cx="418.0" cy="257.3" r="2.5"/>
<circle cx="417.0" cy="264.1" r="2.5"/>
<circle cx="417.0" cy="276.7" r="2.5"/>
<circle cx="426.4" cy="256.0" r="2.5"/>
<circle cx="429.7" cy="256.0" r="2.5"/>
<circle cx="441.5" cy="257.3" r="2.5"/>
<circle cx="440.3" cy="266.6" r="2.5"/>
<circle cx="442.3" cy="266.6" r="2.5"/>
<circle cx="452.9" cy="267.9" r="2.5"/>
<circle cx="454.7" cy="272.2" r="2.5"/>
<circle cx="490.3" cy="274.7" r="2.5"/>
<circle cx="530.0" cy="260.8" r="2.5"/>
<circle cx="531.2" cy="262.1" r="2.5"/>
<circle cx="505.2" cy="285.6" r="2.5"/>
<circle cx="579.2" cy="249.5" r="2.5"/>
<line class="s" x1="471.1" y1="266.6" x2="485.2" y2="266.6" stroke-width="4.5"/>
<circle cx="393.0" cy="285.6" r="2.5"/>
<circle cx="394.8" cy="289.4" r="2.5"/>
<circle cx="399.8" cy="285.6" r="2.5"/>
<circle cx="404.4" cy="283.6" r="2.5"/>
<circle cx="401.9" cy="285.1" r="2.5"/>
<line class="s" x1="395.3" y1="289.9" x2="403.1" y2="289.9" stroke-width="4.5"/>
<circle cx="458.7" cy="297.7" r="2.5"/>
<circle cx="461.0" cy="300.8" r="2.5"/>
<circle cx="463.3" cy="304.0" r="2.5"/>
<circle cx="465.5" cy="307.1" r="2.5"/>
<circle cx="471.3" cy="297.7" r="2.5"/>
<circle cx="473.6" cy="300.8" r="2.5"/>
<circle cx="475.9" cy="304.0" r="2.5"/>
<circle cx="478.2" cy="307.1" r="2.5"/>
<circle cx="382.9" cy="308.3" r="2.5"/>
<circle cx="385.4" cy="308.3" r="2.5"/>
<circle cx="410.4" cy="315.2" r="2.5"/>
<circle cx="418.0" cy="315.2" r="2.5"/>
<circle cx="494.6" cy="312.6" r="2.5"/>
<circle cx="518.6" cy="308.3" r="2.5"/>
<circle cx="553.5" cy="303.3" r="2.5"/>
<circle cx="554.7" cy="305.8" r="2.5"/>
<circle cx="548.9" cy="313.9" r="2.5"/>
<line class="s" x1="363.7" y1="322.2" x2="380.4" y2="322.2" stroke-width="4.5"/>
<circle cx="375.1" cy="318.4" r="2.5"/>
<circle cx="387.2" cy="331.1" r="2.5"/>
<circle cx="430.2" cy="347.5" r="2.5"/>
<circle cx="432.7" cy="347.5" r="2.5"/>
<circle cx="449.6" cy="353.3" r="2.5"/>
<circle cx="424.6" cy="359.4" r="2.5"/>
<circle cx="449.1" cy="357.6" r="2.5"/>
<circle cx="437.2" cy="352.6" r="3.0" fill="#8ba53a"/>
<line class="s" x1="442.0" y1="360.6" x2="447.3" y2="360.6" stroke-width="4.5"/>
<circle cx="497.1" cy="356.3" r="2.5"/>
<circle cx="499.6" cy="355.6" r="2.5"/>
<circle cx="503.9" cy="353.1" r="2.5"/>
<circle cx="504.2" cy="357.6" r="2.5"/>
<circle cx="518.6" cy="352.6" r="2.5"/>
<circle cx="520.6" cy="351.3" r="2.5"/>
<circle cx="519.9" cy="357.6" r="2.5"/>
<circle cx="508.5" cy="365.9" r="2.5"/>
<circle cx="509.8" cy="365.9" r="2.5"/>
<circle cx="467.6" cy="386.2" r="2.5"/>
<circle cx="507.2" cy="388.4" r="2.5"/>
<circle cx="452.4" cy="403.1" r="2.5"/>
<circle cx="578.5" cy="404.4" r="2.5"/>
<circle cx="502.7" cy="449.8" r="2.5"/>
<circle cx="518.6" cy="449.3" r="2.5"/>
<circle cx="526.7" cy="446.0" r="2.5"/>
<circle cx="512.8" cy="494.6" r="2.5"/>
<circle cx="511.0" cy="503.4" r="2.5"/>
<circle cx="512.0" cy="502.9" r="2.5"/>
<circle cx="510.3" cy="511.2" r="2.5"/>
<circle cx="534.3" cy="493.3" r="2.5"/>
<circle cx="533.3" cy="496.6" r="2.5"/>
<circle cx="718.5" cy="230.0" r="2.5"/>
<circle cx="719.7" cy="232.8" r="2.5"/>
<circle cx="720.9" cy="235.7" r="2.5"/>
<circle cx="722.1" cy="238.5" r="2.5"/>
<circle cx="723.3" cy="241.4" r="2.5"/>
<circle cx="764.5" cy="241.4" r="2.5"/>
<circle cx="581.3" cy="249.5" r="2.5"/>
<circle cx="763.2" cy="230.0" r="2.5"/>
<circle cx="803.6" cy="249.5" r="2.5"/>
<circle cx="807.4" cy="249.5" r="2.5"/>
<circle cx="759.9" cy="259.8" r="2.5"/>
<circle cx="780.4" cy="257.3" r="2.5"/>
<circle cx="822.1" cy="257.3" r="2.5"/>
<circle cx="845.8" cy="257.3" r="2.5"/>
<circle cx="787.7" cy="265.4" r="2.5"/>
<circle cx="788.5" cy="269.7" r="2.5"/>
<circle cx="787.7" cy="279.8" r="2.5"/>
<circle cx="805.4" cy="283.6" r="2.5"/>
<circle cx="815.5" cy="289.4" r="2.5"/>
<line class="s" x1="794.0" y1="257.3" x2="808.2" y2="257.3" stroke-width="4.5"/>
<circle cx="746.8" cy="285.6" r="2.5"/>
<circle cx="749.8" cy="285.6" r="2.5"/>
<circle cx="757.6" cy="285.6" r="2.5"/>
<circle cx="762.4" cy="304.0" r="2.5"/>
<circle cx="845.3" cy="279.8" r="2.5"/>
<circle cx="853.7" cy="279.8" r="2.5"/>
<circle cx="853.7" cy="283.6" r="2.5"/>
<circle cx="841.5" cy="291.4" r="2.5"/>
<circle cx="844.8" cy="290.1" r="2.5"/>
<circle cx="887.5" cy="283.6" r="2.5"/>
<circle cx="887.5" cy="290.1" r="2.5"/>
<circle cx="897.9" cy="288.1" r="2.5"/>
<circle cx="906.0" cy="290.1" r="2.5"/>
<circle cx="933.0" cy="289.4" r="2.5"/>
<line class="s" x1="862.2" y1="292.4" x2="866.3" y2="292.4" stroke-width="4.5"/>
<circle cx="938.8" cy="296.2" r="2.5"/>
<circle cx="940.8" cy="298.4" r="2.5"/>
<circle cx="942.9" cy="300.6" r="2.5"/>
<circle cx="944.9" cy="302.8" r="2.5"/>
<circle cx="946.9" cy="305.0" r="2.5"/>
<circle cx="894.6" cy="230.0" r="2.5"/>
<circle cx="899.6" cy="237.6" r="2.5"/>
<circle cx="903.4" cy="240.1" r="2.5"/>
<circle cx="900.9" cy="242.6" r="2.5"/>
<circle cx="908.5" cy="233.8" r="2.5"/>
<circle cx="917.3" cy="231.3" r="2.5"/>
<circle cx="892.1" cy="248.4" r="2.5"/>
<circle cx="904.7" cy="249.5" r="2.5"/>
<circle cx="923.7" cy="243.9" r="2.5"/>
<circle cx="936.3" cy="249.5" r="2.5"/>
<circle cx="897.9" cy="257.3" r="2.5"/>
<circle cx="926.2" cy="266.6" r="2.5"/>
<circle cx="744.2" cy="311.4" r="2.5"/>
<circle cx="745.5" cy="313.4" r="2.5"/>
<circle cx="743.0" cy="313.4" r="2.5"/>
<circle cx="755.6" cy="311.4" r="2.5"/>
<circle cx="755.6" cy="313.4" r="2.5"/>
<circle cx="777.1" cy="311.4" r="2.5"/>
<circle cx="779.6" cy="313.4" r="2.5"/>
<circle cx="775.8" cy="312.1" r="2.5"/>
<circle cx="785.9" cy="312.6" r="2.5"/>
<circle cx="801.9" cy="312.6" r="2.5"/>
<circle cx="818.8" cy="312.6" r="2.5"/>
<circle cx="855.9" cy="315.2" r="2.5"/>
<circle cx="906.0" cy="311.6" r="2.5"/>
<circle cx="785.9" cy="331.1" r="2.5"/>
<circle cx="827.6" cy="337.9" r="2.5"/>
<circle cx="820.6" cy="347.5" r="2.5"/>
<circle cx="826.9" cy="347.5" r="2.5"/>
<circle cx="820.1" cy="361.4" r="2.5"/>
<circle cx="813.0" cy="377.1" r="2.5"/>
<circle cx="783.9" cy="359.4" r="2.5"/>
<circle cx="922.4" cy="324.3" r="2.5"/>
<circle cx="936.8" cy="337.9" r="2.5"/>
<line class="s" x1="813.0" y1="331.1" x2="841.0" y2="331.1" stroke-width="4.5"/>
<line class="s" x1="872.4" y1="334.1" x2="877.7" y2="334.1" stroke-width="4.5"/>
<circle cx="748.8" cy="351.3" r="2.5"/>
<circle cx="747.5" cy="353.8" r="2.5"/>
<circle cx="748.0" cy="357.6" r="2.5"/>
<circle cx="726.1" cy="346.7" r="2.5"/>
<circle cx="673.0" cy="344.5" r="2.5"/>
<circle cx="890.8" cy="351.3" r="2.5"/>
<circle cx="889.5" cy="354.3" r="2.5"/>
<circle cx="890.3" cy="357.6" r="2.5"/>
<circle cx="883.7" cy="374.0" r="2.5"/>
<circle cx="931.7" cy="363.4" r="2.5"/>
<circle cx="933.0" cy="379.6" r="2.5"/>
<circle cx="930.0" cy="398.8" r="2.5"/>
<circle cx="926.2" cy="401.1" r="2.5"/>
<circle cx="933.0" cy="414.5" r="2.5"/>
<circle cx="589.6" cy="317.2" r="2.5"/>
<circle cx="590.6" cy="343.2" r="2.5"/>
<circle cx="583.0" cy="350.0" r="2.5"/>
<circle cx="599.7" cy="368.2" r="2.5"/>
<circle cx="600.7" cy="375.8" r="2.5"/>
<circle cx="602.0" cy="380.3" r="2.5"/>
<circle cx="608.8" cy="410.9" r="2.5"/>
<circle cx="610.8" cy="425.3" r="2.5"/>
<circle cx="612.1" cy="427.9" r="2.5"/>
<circle cx="613.4" cy="433.7" r="2.5"/>
<circle cx="615.6" cy="447.1" r="2.5"/>
<circle cx="614.6" cy="457.4" r="2.5"/>
<circle cx="585.1" cy="473.1" r="2.5"/>
<circle cx="580.0" cy="404.4" r="2.5"/>
<circle cx="653.8" cy="398.5" r="2.5"/>
<circle cx="592.1" cy="322.2" r="2.5"/>
<circle cx="593.1" cy="325.1" r="2.5"/>
<circle cx="594.1" cy="328.0" r="2.5"/>
<circle cx="595.1" cy="330.9" r="2.5"/>
<circle cx="596.0" cy="333.8" r="2.5"/>
<circle cx="597.0" cy="336.7" r="2.5"/>
<circle cx="598.0" cy="339.6" r="2.5"/>
<circle cx="599.0" cy="342.4" r="2.5"/>
<circle cx="604.0" cy="386.7" r="2.5"/>
<circle cx="605.3" cy="390.3" r="2.5"/>
<circle cx="606.5" cy="393.9" r="2.5"/>
<circle cx="607.8" cy="397.5" r="2.5"/>
<circle cx="773.3" cy="437.2" r="2.5"/>
<circle cx="830.2" cy="430.4" r="2.5"/>
<circle cx="731.6" cy="449.8" r="2.5"/>
<circle cx="749.8" cy="449.8" r="2.5"/>
<circle cx="888.8" cy="449.8" r="2.5"/>
<circle cx="731.1" cy="489.8" r="2.5"/>
<circle cx="727.3" cy="493.3" r="2.5"/>
<circle cx="724.5" cy="497.1" r="2.5"/>
<circle cx="743.0" cy="489.8" r="2.5"/>
<circle cx="755.6" cy="489.8" r="2.5"/>
<circle cx="775.8" cy="496.6" r="2.5"/>
<circle cx="740.5" cy="502.9" r="2.5"/>
<circle cx="778.4" cy="512.5" r="2.5"/>
<circle cx="746.8" cy="517.3" r="2.5"/>
<circle cx="749.8" cy="517.3" r="2.5"/>
<circle cx="750.6" cy="528.2" r="2.5"/>
<circle cx="753.8" cy="528.2" r="2.5"/>
<circle cx="784.9" cy="528.4" r="2.5"/>
<circle cx="847.8" cy="489.8" r="2.5"/>
<circle cx="850.4" cy="489.8" r="2.5"/>
<circle cx="858.5" cy="505.7" r="2.5"/>
<circle cx="866.8" cy="505.7" r="2.5"/>
<circle cx="870.6" cy="507.2" r="2.5"/>
<circle cx="880.7" cy="511.0" r="2.5"/>
<circle cx="882.0" cy="514.3" r="2.5"/>
<circle cx="892.1" cy="517.0" r="2.5"/>
<circle cx="904.7" cy="500.4" r="2.5"/>
<circle cx="919.9" cy="499.1" r="2.5"/>
<circle cx="922.9" cy="499.1" r="2.5"/>
<circle cx="849.1" cy="521.9" r="2.5"/>
<circle cx="850.4" cy="523.1" r="2.5"/>
<circle cx="846.6" cy="529.4" r="2.5"/>
<circle cx="866.8" cy="528.4" r="2.5"/>
<circle cx="870.6" cy="528.4" r="2.5"/>
<circle cx="882.0" cy="523.6" r="2.5"/>
<circle cx="911.0" cy="528.2" r="2.5"/>
<circle cx="911.0" cy="531.2" r="2.5"/>
<circle cx="899.6" cy="553.9" r="2.5"/>
<circle cx="902.7" cy="555.5" r="2.5"/>
<circle cx="1086.1" cy="245.2" r="2.5"/>
<circle cx="1088.1" cy="249.5" r="2.5"/>
<circle cx="1103.8" cy="246.4" r="2.5"/>
<circle cx="1103.8" cy="248.4" r="2.5"/>
<circle cx="1156.4" cy="249.5" r="2.5"/>
<circle cx="1211.5" cy="249.5" r="2.5"/>
<circle cx="1229.7" cy="248.4" r="2.5"/>
<circle cx="1265.8" cy="249.5" r="2.5"/>
<circle cx="1287.3" cy="245.2" r="2.5"/>
<circle cx="1330.0" cy="249.5" r="2.5"/>
<circle cx="1367.4" cy="249.5" r="2.5"/>
<circle cx="1380.0" cy="249.5" r="2.5"/>
<circle cx="1038.9" cy="257.3" r="2.5"/>
<circle cx="1046.2" cy="259.8" r="2.5"/>
<circle cx="1048.7" cy="262.3" r="2.5"/>
<circle cx="1043.2" cy="265.4" r="2.5"/>
<circle cx="1045.7" cy="267.4" r="2.5"/>
<circle cx="1051.3" cy="269.2" r="2.5"/>
<circle cx="1049.5" cy="271.7" r="2.5"/>
<circle cx="1047.7" cy="274.2" r="2.5"/>
<circle cx="1069.2" cy="255.3" r="2.5"/>
<circle cx="1077.3" cy="254.0" r="2.5"/>
<circle cx="1004.0" cy="266.6" r="2.5"/>
<circle cx="1113.9" cy="265.4" r="2.5"/>
<circle cx="1118.2" cy="266.6" r="2.5"/>
<circle cx="1173.3" cy="265.4" r="2.5"/>
<circle cx="1189.0" cy="257.3" r="2.5"/>
<circle cx="1245.3" cy="260.8" r="2.5"/>
<circle cx="1260.0" cy="277.5" r="2.5"/>
<circle cx="1258.7" cy="282.3" r="2.5"/>
<circle cx="1313.0" cy="265.4" r="2.5"/>
<circle cx="1362.8" cy="263.1" r="2.5"/>
<circle cx="1251.6" cy="264.1" r="2.5"/>
<circle cx="1255.4" cy="266.6" r="2.5"/>
<circle cx="1250.4" cy="269.2" r="2.5"/>
<circle cx="1254.2" cy="271.7" r="2.5"/>
<circle cx="1249.9" cy="274.2" r="2.5"/>
<circle cx="1256.7" cy="261.6" r="2.5"/>
<circle cx="1252.9" cy="267.9" r="2.5"/>
<circle cx="1252.4" cy="271.7" r="2.5"/>
<circle cx="1254.9" cy="269.2" r="2.5"/>
<circle cx="1079.3" cy="280.0" r="2.5"/>
<circle cx="1039.9" cy="283.6" r="2.5"/>
<circle cx="1034.3" cy="289.4" r="2.5"/>
<circle cx="1069.2" cy="290.1" r="2.5"/>
<circle cx="1105.6" cy="283.6" r="2.5"/>
<circle cx="1103.1" cy="294.9" r="2.5"/>
<circle cx="1186.7" cy="286.9" r="2.5"/>
<circle cx="1186.7" cy="289.4" r="2.5"/>
<circle cx="1194.8" cy="283.1" r="2.5"/>
<circle cx="1230.2" cy="294.9" r="2.5"/>
<circle cx="1307.5" cy="282.3" r="2.5"/>
<circle cx="1359.3" cy="283.6" r="2.5"/>
<circle cx="1369.9" cy="283.6" r="2.5"/>
<circle cx="1374.2" cy="282.3" r="2.5"/>
<circle cx="1380.0" cy="289.4" r="2.5"/>
<circle cx="1179.6" cy="285.6" r="3.8" fill="#86a443"/>
<line class="s" x1="1281.2" y1="285.6" x2="1285.2" y2="285.6" stroke-width="4.5"/>
<circle cx="1025.5" cy="312.6" r="2.5"/>
<circle cx="1031.0" cy="310.6" r="2.5"/>
<circle cx="1089.2" cy="308.3" r="2.5"/>
<circle cx="1094.5" cy="308.3" r="2.5"/>
<circle cx="1158.4" cy="308.3" r="2.5"/>
<circle cx="1246.6" cy="309.3" r="2.5"/>
<circle cx="1247.8" cy="309.3" r="2.5"/>
<circle cx="1277.2" cy="303.8" r="2.5"/>
<circle cx="1286.0" cy="316.4" r="2.5"/>
<circle cx="1298.4" cy="316.4" r="2.5"/>
<circle cx="1306.5" cy="321.7" r="2.5"/>
<circle cx="1361.6" cy="308.3" r="2.5"/>
<circle cx="1342.3" cy="321.7" r="2.5"/>
<circle cx="1350.4" cy="319.5" r="2.5"/>
<circle cx="1004.8" cy="321.7" r="2.5"/>
<circle cx="1353.5" cy="308.3" r="3.5" fill="#a3a722"/>
<circle cx="1183.4" cy="331.1" r="2.5"/>
<circle cx="1301.7" cy="331.1" r="2.5"/>
<circle cx="1301.7" cy="350.0" r="2.5"/>
<circle cx="1311.0" cy="351.3" r="2.5"/>
<circle cx="1311.0" cy="356.3" r="2.5"/>
<circle cx="1306.7" cy="360.1" r="2.5"/>
<circle cx="1298.4" cy="363.4" r="2.5"/>
<circle cx="1285.0" cy="353.3" r="2.5"/>
<circle cx="1285.0" cy="358.1" r="2.5"/>
<circle cx="1278.2" cy="372.8" r="2.5"/>
<circle cx="1309.2" cy="354.3" r="2.5"/>
<line class="s" x1="1301.4" y1="341.2" x2="1305.5" y2="341.2" stroke-width="4.5"/>
<circle cx="991.4" cy="345.0" r="2.8"/>
<circle cx="1041.1" cy="345.0" r="2.8"/>
<circle cx="1193.5" cy="345.0" r="2.8"/>
<circle cx="989.3" cy="353.3" r="2.5"/>
<circle cx="989.3" cy="358.1" r="2.5"/>
<circle cx="1007.3" cy="352.3" r="2.5"/>
<circle cx="1018.4" cy="354.6" r="2.5"/>
<circle cx="1061.4" cy="353.3" r="2.5"/>
<circle cx="1061.4" cy="358.1" r="2.5"/>
<circle cx="1089.2" cy="352.3" r="2.5"/>
<circle cx="1094.5" cy="352.3" r="2.5"/>
<circle cx="1158.4" cy="352.3" r="2.5"/>
<circle cx="1175.3" cy="360.1" r="2.5"/>
<circle cx="1161.9" cy="367.0" r="2.5"/>
<circle cx="1361.6" cy="352.3" r="2.5"/>
<circle cx="1358.3" cy="378.1" r="2.5"/>
<circle cx="1380.0" cy="376.6" r="2.5"/>
<circle cx="1353.5" cy="352.3" r="3.5" fill="#8ba53a"/>
<circle cx="1086.1" cy="372.8" r="2.5"/>
<circle cx="1083.6" cy="379.3" r="2.5"/>
<circle cx="1085.6" cy="379.3" r="2.5"/>
<circle cx="1108.9" cy="378.1" r="2.5"/>
<circle cx="1114.4" cy="379.3" r="2.5"/>
<circle cx="999.5" cy="379.3" r="2.5"/>
<circle cx="986.8" cy="386.2" r="2.5"/>
<circle cx="1172.0" cy="379.3" r="2.5"/>
<circle cx="1187.7" cy="381.6" r="2.5"/>
<circle cx="1002.7" cy="403.1" r="2.5"/>
<circle cx="1072.7" cy="403.1" r="2.5"/>
<circle cx="1117.7" cy="406.4" r="2.5"/>
<circle cx="1002.7" cy="409.4" r="2.8"/>
<circle cx="1023.5" cy="401.8" r="3.3"/>
<circle cx="1375.5" cy="399.3" r="2.8"/>
<line class="s" x1="1141.0" y1="403.1" x2="1156.4" y2="403.1" stroke-width="5.1"/>
<line class="s" x1="1213.0" y1="403.1" x2="1228.4" y2="403.1" stroke-width="5.1"/>
<circle cx="1132.4" cy="416.5" r="2.5"/>
<circle cx="1136.2" cy="418.8" r="2.5"/>
<circle cx="1140.5" cy="421.3" r="2.5"/>
<circle cx="1175.8" cy="414.5" r="2.5"/>
<circle cx="1179.1" cy="414.5" r="2.5"/>
<circle cx="1195.5" cy="415.5" r="2.5"/>
<circle cx="1106.3" cy="424.6" r="2.5"/>
<circle cx="1179.9" cy="431.4" r="2.5"/>
<circle cx="1004.5" cy="430.4" r="2.5"/>
<circle cx="1007.8" cy="430.4" r="2.5"/>
<circle cx="1011.6" cy="430.4" r="2.5"/>
<circle cx="1044.4" cy="437.2" r="2.5"/>
<circle cx="988.1" cy="449.8" r="2.8"/>
<circle cx="1062.9" cy="448.6" r="4.0" fill="#86a443"/>
<circle cx="1059.6" cy="449.8" r="2.5"/>
<circle cx="1071.0" cy="452.4" r="2.5"/>
<circle cx="1072.2" cy="455.6" r="2.5"/>
<circle cx="1082.8" cy="448.1" r="2.5"/>
<circle cx="1084.1" cy="454.4" r="2.5"/>
<circle cx="1052.5" cy="454.4" r="2.5"/>
<circle cx="1076.0" cy="459.4" r="2.5"/>
<circle cx="1073.5" cy="451.9" r="2.5"/>
<line class="s" x1="1249.1" y1="441.0" x2="1257.4" y2="441.0" stroke-width="6.6"/>
<circle cx="1256.7" cy="437.2" r="2.5"/>
<circle cx="1246.6" cy="446.0" r="2.5"/>
<circle cx="1266.8" cy="439.2" r="2.5"/>
<circle cx="1275.6" cy="448.1" r="2.5"/>
<circle cx="1299.6" cy="439.7" r="2.5"/>
<circle cx="1299.6" cy="442.8" r="2.5"/>
<circle cx="1319.9" cy="439.7" r="2.5"/>
<circle cx="1319.9" cy="442.8" r="2.5"/>
<circle cx="1337.8" cy="437.2" r="2.5"/>
<circle cx="1356.0" cy="429.1" r="2.5"/>
<circle cx="1359.0" cy="435.9" r="2.5"/>
<circle cx="1361.6" cy="435.9" r="2.5"/>
<circle cx="1366.1" cy="437.2" r="2.5"/>
<circle cx="1374.2" cy="435.9" r="2.5"/>
<circle cx="1364.1" cy="452.6" r="2.5"/>
<circle cx="1283.2" cy="449.8" r="3.0"/>
<line class="s" x1="1141.0" y1="474.3" x2="1155.6" y2="487.7" stroke-width="5.1"/>
<line class="s" x1="1213.5" y1="474.3" x2="1228.1" y2="487.7" stroke-width="5.1"/>
<circle cx="1264.5" cy="470.8" r="2.5"/>
<circle cx="1333.5" cy="472.1" r="2.5"/>
<circle cx="1241.0" cy="488.7" r="2.5"/>
<circle cx="1067.2" cy="492.3" r="2.5"/>
<circle cx="1071.5" cy="491.0" r="2.5"/>
<circle cx="1078.5" cy="497.8" r="2.5"/>
<circle cx="1093.2" cy="500.1" r="2.5"/>
<circle cx="1042.4" cy="504.4" r="2.5"/>
<circle cx="1042.4" cy="509.0" r="2.5"/>
<circle cx="1064.9" cy="504.4" r="2.5"/>
<circle cx="1064.9" cy="508.0" r="2.5"/>
<circle cx="1105.6" cy="515.8" r="2.5"/>
<circle cx="1290.5" cy="493.3" r="2.5"/>
<circle cx="1290.5" cy="496.6" r="2.5"/>
<circle cx="1308.5" cy="493.3" r="2.5"/>
<circle cx="1307.7" cy="496.6" r="2.5"/>
<circle cx="1314.3" cy="501.1" r="2.5"/>
<line class="s" x1="1319.1" y1="496.6" x2="1324.4" y2="496.6" stroke-width="4.5"/>
<circle cx="1179.9" cy="517.0" r="4.0" fill="#a8a61d"/>
<circle cx="1182.1" cy="528.4" r="2.5"/>
<circle cx="1264.5" cy="517.0" r="2.5"/>
<circle cx="1271.3" cy="525.9" r="2.5"/>
<circle cx="1358.3" cy="519.3" r="2.5"/>
<line class="s" x1="1278.7" y1="517.0" x2="1286.5" y2="517.0" stroke-width="5.1"/>
<circle cx="1345.9" cy="528.4" r="6.8" fill="#6a9b69"/>
<circle cx="1001.5" cy="530.4" r="2.5"/>
<circle cx="1004.0" cy="543.1" r="2.5"/>
<circle cx="1028.8" cy="535.0" r="2.5"/>
<circle cx="1067.2" cy="540.5" r="2.5"/>
<circle cx="1074.0" cy="539.5" r="2.5"/>
<circle cx="1096.2" cy="531.7" r="2.5"/>
<circle cx="1108.9" cy="538.3" r="2.5"/>
<circle cx="1116.7" cy="544.1" r="2.5"/>
<circle cx="1228.4" cy="537.3" r="2.5"/>
<circle cx="1247.6" cy="536.3" r="2.5"/>
<circle cx="1306.2" cy="541.8" r="2.5"/>
<circle cx="1312.3" cy="539.5" r="2.5"/>
<circle cx="1314.0" cy="540.3" r="2.5"/>
<circle cx="1362.8" cy="540.5" r="2.5"/>
<circle cx="1382.1" cy="249.5" r="2.5"/>
<circle cx="1388.5" cy="266.6" r="2.5"/>
<circle cx="1386.4" cy="269.9" r="2.5"/>
<circle cx="1380.9" cy="289.4" r="2.5"/>
<circle cx="1387.7" cy="316.4" r="2.5"/>
<circle cx="1388.5" cy="360.1" r="2.5"/>
<circle cx="1380.9" cy="377.1" r="2.5"/>
<circle cx="1388.5" cy="403.1" r="2.5"/>
<circle cx="1383.4" cy="436.0" r="2.5"/>
<circle cx="1392.2" cy="489.8" r="2.5"/>
<circle cx="1383.4" cy="518.1" r="2.5"/>
<circle cx="1384.7" cy="520.6" r="2.5"/>
<circle cx="1395.5" cy="345.0" r="2.5"/>
<circle cx="1400.3" cy="257.3" r="1.0"/>
<circle cx="1400.3" cy="289.4" r="1.0"/>
<circle cx="1400.3" cy="321.7" r="1.0"/>
<circle cx="1400.3" cy="331.1" r="1.0"/>
<circle cx="1400.3" cy="336.1" r="1.0"/>
<circle cx="1400.3" cy="339.9" r="1.0"/>
<circle cx="1400.3" cy="376.6" r="1.0"/>
<circle cx="1400.3" cy="386.2" r="1.0"/>
<circle cx="603.1" cy="596.0" r="2.5"/>
<circle cx="609.9" cy="597.2" r="2.5"/>
<circle cx="616.7" cy="592.7" r="2.5"/>
<polyline class="s" points="617.7,598.2 644.2,624.3 656.9,635.6 674.6,652.1 712.5,690.0 718.8,697.6 728.9,706.4 732.7,713.5 737.7,721.6 745.3,727.9 752.9,732.2 759.2,735.5 765.5,744.3 771.9,753.1 779.4,764.5 788.3,770.8 795.9,775.9 798.4,780.2 808.5,784.7 818.6,789.3 830.0,792.8 836.3,799.9 843.9,805.4 854.0,810.5 864.1,816.3 871.7,823.9 880.0,830.7" stroke-width="5.6"/>
<circle cx="732.7" cy="713.5" r="5.6" fill="#a8a61d"/>
<circle cx="728.9" cy="704.4" r="2.5"/>
<circle cx="878.0" cy="829.7" r="4.0" fill="#86a443"/>
<circle cx="817.8" cy="590.7" r="2.5"/>
<circle cx="862.8" cy="587.1" r="2.5"/>
<circle cx="840.6" cy="610.9" r="2.5"/>
<circle cx="859.3" cy="690.0" r="2.5"/>
<circle cx="733.9" cy="598.5" r="2.5"/>
<circle cx="735.7" cy="599.8" r="2.5"/>
<circle cx="740.3" cy="600.3" r="2.5"/>
<circle cx="742.8" cy="601.5" r="2.5"/>
<circle cx="752.1" cy="602.8" r="2.5"/>
<circle cx="758.0" cy="604.1" r="2.5"/>
<circle cx="772.6" cy="605.3" r="2.5"/>
<circle cx="774.6" cy="606.3" r="2.5"/>
<circle cx="792.8" cy="607.3" r="2.5"/>
<circle cx="797.9" cy="608.4" r="2.5"/>
<circle cx="799.9" cy="608.4" r="2.5"/>
<circle cx="821.1" cy="613.4" r="2.5"/>
<circle cx="854.0" cy="623.8" r="2.5"/>
<circle cx="859.0" cy="626.3" r="2.5"/>
<circle cx="869.1" cy="627.3" r="2.5"/>
<circle cx="872.4" cy="628.8" r="2.5"/>
<circle cx="877.5" cy="629.8" r="2.5"/>
<line class="s" x1="810.5" y1="609.1" x2="838.8" y2="623.0" stroke-width="5.0"/>
<circle cx="752.1" cy="705.6" r="2.5"/>
<circle cx="769.1" cy="707.9" r="2.5"/>
<circle cx="780.4" cy="707.9" r="2.5"/>
<circle cx="801.7" cy="717.0" r="2.5"/>
<circle cx="754.7" cy="724.1" r="2.5"/>
<circle cx="754.7" cy="726.6" r="2.5"/>
<circle cx="785.0" cy="731.7" r="2.5"/>
<circle cx="773.4" cy="737.2" r="2.5"/>
<circle cx="808.5" cy="739.8" r="2.5"/>
<circle cx="826.7" cy="741.8" r="2.5"/>
<circle cx="847.2" cy="730.4" r="2.5"/>
<circle cx="880.0" cy="724.1" r="2.5"/>
<circle cx="792.8" cy="746.3" r="2.5"/>
<circle cx="800.7" cy="745.3" r="2.5"/>
<circle cx="780.4" cy="756.4" r="2.5"/>
<circle cx="786.3" cy="764.0" r="2.5"/>
<circle cx="818.9" cy="764.3" r="2.5"/>
<circle cx="832.2" cy="767.8" r="2.5"/>
<circle cx="866.1" cy="773.4" r="2.5"/>
<circle cx="790.3" cy="753.1" r="3.0"/>
<circle cx="933.8" cy="594.7" r="2.5"/>
<circle cx="1124.6" cy="590.7" r="2.5"/>
<circle cx="893.4" cy="631.1" r="2.5"/>
<circle cx="915.9" cy="632.4" r="2.5"/>
<circle cx="937.4" cy="633.4" r="2.5"/>
<circle cx="986.9" cy="634.6" r="2.5"/>
<circle cx="992.4" cy="635.6" r="2.5"/>
<circle cx="995.0" cy="637.7" r="2.5"/>
<circle cx="1018.5" cy="648.3" r="2.5"/>
<circle cx="1021.5" cy="645.8" r="2.5"/>
<circle cx="1027.3" cy="649.5" r="2.5"/>
<circle cx="1035.4" cy="651.3" r="2.5"/>
<circle cx="1053.3" cy="652.6" r="2.5"/>
<circle cx="1082.7" cy="653.8" r="2.5"/>
<circle cx="1087.5" cy="655.1" r="2.5"/>
<circle cx="1112.2" cy="657.1" r="2.5"/>
<circle cx="1157.4" cy="658.4" r="2.5"/>
<circle cx="1160.5" cy="659.6" r="2.5"/>
<circle cx="1168.6" cy="660.7" r="2.5"/>
<circle cx="1174.4" cy="661.7" r="2.5"/>
<circle cx="1193.3" cy="662.7" r="2.5"/>
<circle cx="1229.7" cy="655.9" r="2.5"/>
<circle cx="1230.0" cy="663.4" r="2.5"/>
<circle cx="1233.8" cy="665.2" r="2.5"/>
<circle cx="1236.8" cy="667.2" r="2.5"/>
<circle cx="1262.8" cy="669.0" r="2.5"/>
<circle cx="1267.9" cy="670.5" r="2.5"/>
<circle cx="1274.2" cy="671.8" r="2.5"/>
<circle cx="1278.0" cy="673.5" r="2.5"/>
<line class="s" x1="1006.3" y1="640.7" x2="1013.9" y2="644.5" stroke-width="6.1"/>
<line class="s" x1="939.9" y1="688.7" x2="945.7" y2="695.0" stroke-width="4.0"/>
<line class="s" x1="946.7" y1="688.7" x2="952.5" y2="695.0" stroke-width="4.0"/>
<line class="s" x1="953.5" y1="688.7" x2="959.3" y2="695.0" stroke-width="4.0"/>
<line class="s" x1="960.4" y1="688.7" x2="966.2" y2="695.0" stroke-width="4.0"/>
<line class="s" x1="967.2" y1="688.7" x2="973.0" y2="695.0" stroke-width="4.0"/>
<line class="s" x1="974.0" y1="688.7" x2="979.8" y2="695.0" stroke-width="4.0"/>
<line class="s" x1="980.8" y1="688.7" x2="986.6" y2="695.0" stroke-width="4.0"/>
<circle cx="1087.5" cy="693.3" r="2.5"/>
<circle cx="1121.3" cy="707.9" r="2.5"/>
<circle cx="1060.7" cy="713.5" r="2.5"/>
<circle cx="1061.9" cy="713.5" r="2.5"/>
<circle cx="1080.9" cy="713.5" r="2.5"/>
<circle cx="1031.6" cy="725.9" r="2.5"/>
<circle cx="1032.4" cy="725.9" r="2.5"/>
<circle cx="881.3" cy="723.6" r="2.5"/>
<circle cx="1166.0" cy="712.0" r="2.5"/>
<circle cx="1166.0" cy="714.7" r="2.5"/>
<circle cx="1179.9" cy="710.2" r="2.5"/>
<circle cx="1270.4" cy="708.9" r="2.5"/>
<circle cx="1240.1" cy="719.0" r="2.5"/>
<circle cx="1242.6" cy="719.0" r="2.5"/>
<circle cx="1240.1" cy="721.6" r="2.5"/>
<circle cx="1280.0" cy="722.3" r="2.5"/>
<line class="s" x1="939.4" y1="741.8" x2="946.5" y2="741.8" stroke-width="5.1"/>
<line class="s" x1="962.9" y1="741.8" x2="970.5" y2="741.8" stroke-width="5.1"/>
<circle cx="991.2" cy="733.9" r="2.5"/>
<circle cx="993.7" cy="733.9" r="2.5"/>
<circle cx="1000.0" cy="733.9" r="2.5"/>
<circle cx="938.4" cy="754.2" r="2.5"/>
<circle cx="1044.5" cy="754.2" r="2.5"/>
<circle cx="1025.3" cy="764.3" r="2.5"/>
<circle cx="1031.9" cy="764.3" r="2.5"/>
<circle cx="1119.0" cy="734.9" r="2.5"/>
<circle cx="1125.9" cy="737.2" r="2.5"/>
<circle cx="1107.7" cy="744.0" r="2.5"/>
<circle cx="1120.8" cy="746.3" r="2.5"/>
<circle cx="1126.4" cy="746.3" r="2.5"/>
<circle cx="1118.8" cy="756.2" r="2.5"/>
<circle cx="1122.6" cy="757.4" r="2.5"/>
<circle cx="1191.3" cy="744.0" r="2.5"/>
<circle cx="1183.2" cy="758.7" r="2.5"/>
<circle cx="1189.0" cy="760.0" r="2.5"/>
<circle cx="1182.2" cy="768.8" r="2.5"/>
<circle cx="1183.2" cy="782.5" r="2.5"/>
<circle cx="1245.4" cy="771.1" r="2.5"/>
<circle cx="1252.2" cy="754.2" r="2.5"/>
<line class="s" x1="1141.5" y1="741.8" x2="1155.4" y2="741.8" stroke-width="5.6"/>
<circle cx="1169.8" cy="740.8" r="3.5" fill="#86a443"/>
<line class="s" x1="1213.0" y1="770.1" x2="1227.4" y2="770.1" stroke-width="5.6"/>
<circle cx="1267.6" cy="770.1" r="2.8"/>
<circle cx="1115.5" cy="778.9" r="2.5"/>
<circle cx="1107.7" cy="800.4" r="2.5"/>
<circle cx="1100.8" cy="812.8" r="2.5"/>
<circle cx="1068.3" cy="807.2" r="2.5"/>
<circle cx="1024.3" cy="817.3" r="2.5"/>
<circle cx="906.8" cy="807.0" r="2.5"/>
<circle cx="1156.7" cy="798.1" r="2.8"/>
<circle cx="1191.3" cy="800.4" r="2.5"/>
<circle cx="1193.8" cy="800.4" r="2.5"/>
<circle cx="1261.6" cy="804.9" r="2.5"/>
<circle cx="1182.2" cy="824.1" r="2.5"/>
<circle cx="1169.8" cy="829.7" r="2.5"/>
<circle cx="1163.0" cy="833.2" r="2.5"/>
<circle cx="1190.3" cy="844.6" r="2.5"/>
<circle cx="1092.0" cy="843.4" r="2.5"/>
<circle cx="1095.3" cy="853.5" r="2.5"/>
<circle cx="1090.7" cy="858.0" r="2.5"/>
<circle cx="1090.7" cy="865.8" r="2.5"/>
<circle cx="1095.3" cy="865.8" r="2.5"/>
<polyline class="s" points="880.0,830.2 887.6,836.5 895.2,842.8 902.7,849.2 912.8,853.0 919.2,858.0 926.7,859.3 934.3,864.3 940.6,869.4 948.2,872.7 955.8,882.0 988.7,912.3 998.8,921.2" stroke-width="5.6"/>
<circle cx="957.1" cy="870.1" r="2.5"/>
<circle cx="965.7" cy="870.1" r="2.5"/>
<circle cx="981.1" cy="870.1" r="2.5"/>
<line class="s" x1="971.5" y1="872.7" x2="976.8" y2="872.7" stroke-width="4.5"/>
<circle cx="989.2" cy="864.8" r="2.8"/>
<circle cx="973.5" cy="870.6" r="2.5"/>
<line class="s" x1="956.3" y1="881.5" x2="962.9" y2="881.5" stroke-width="4.5"/>
<line class="s" x1="978.5" y1="881.5" x2="986.9" y2="881.5" stroke-width="5.1"/>
<circle cx="990.4" cy="912.3" r="3.0"/>
<circle cx="1398.3" cy="597.2" r="2.5"/>
<circle cx="1400.8" cy="596.5" r="2.5"/>
<circle cx="1395.5" cy="609.6" r="2.5"/>
<circle cx="1280.0" cy="674.3" r="2.5"/>
<circle cx="1288.3" cy="675.6" r="2.5"/>
<circle cx="1291.4" cy="677.4" r="2.5"/>
<circle cx="1300.7" cy="678.1" r="2.5"/>
<circle cx="1305.3" cy="679.4" r="2.5"/>
<circle cx="1320.9" cy="680.6" r="2.5"/>
<circle cx="1325.5" cy="681.9" r="2.5"/>
<circle cx="1329.3" cy="683.2" r="2.5"/>
<circle cx="1331.3" cy="684.2" r="2.5"/>
<circle cx="1329.0" cy="688.7" r="2.5"/>
<circle cx="1360.6" cy="685.2" r="2.5"/>
<circle cx="1368.5" cy="686.2" r="2.5"/>
<circle cx="1375.3" cy="687.5" r="2.5"/>
<circle cx="1290.4" cy="707.7" r="2.5"/>
<circle cx="1308.6" cy="707.7" r="2.5"/>
<circle cx="1318.7" cy="704.4" r="2.5"/>
<circle cx="1282.0" cy="722.3" r="2.5"/>
<circle cx="1296.2" cy="738.5" r="2.5"/>
<circle cx="1346.0" cy="730.4" r="2.5"/>
<circle cx="1337.9" cy="736.0" r="2.5"/>
<circle cx="1338.6" cy="754.2" r="2.5"/>
<circle cx="1340.7" cy="754.2" r="2.5"/>
<circle cx="1347.0" cy="751.9" r="2.5"/>
<circle cx="1349.5" cy="751.9" r="2.5"/>
<circle cx="1352.8" cy="754.2" r="2.5"/>
<circle cx="1366.2" cy="754.2" r="2.5"/>
<circle cx="1394.5" cy="764.3" r="2.5"/>
<circle cx="1314.4" cy="764.3" r="2.5"/>
<circle cx="1322.2" cy="769.8" r="2.5"/>
<circle cx="1323.5" cy="769.8" r="2.5"/>
<circle cx="1378.8" cy="769.8" r="2.5"/>
<circle cx="1338.9" cy="776.7" r="2.5"/>
<circle cx="1340.7" cy="778.9" r="2.5"/>
<circle cx="1341.4" cy="783.5" r="2.5"/>
<circle cx="1326.2" cy="789.3" r="2.5"/>
<circle cx="1328.0" cy="789.3" r="2.5"/>
<circle cx="1385.4" cy="789.3" r="2.5"/>
<circle cx="1306.3" cy="802.7" r="2.5"/>
<circle cx="1329.8" cy="802.7" r="2.5"/>
<circle cx="1331.3" cy="802.7" r="2.5"/>
<circle cx="1369.5" cy="807.0" r="2.5"/>
<circle cx="1369.5" cy="811.8" r="2.5"/>
<circle cx="1389.7" cy="808.3" r="2.5"/>
<circle cx="1306.3" cy="821.9" r="2.5"/>
<circle cx="1317.7" cy="821.9" r="2.5"/>
<circle cx="1354.8" cy="831.0" r="2.5"/>
<circle cx="1304.0" cy="836.6" r="2.5"/>
<circle cx="1287.1" cy="839.8" r="2.5"/>
<circle cx="1297.2" cy="869.2" r="2.5"/>
<circle cx="1332.3" cy="868.2" r="2.5"/>
<circle cx="1364.9" cy="866.9" r="2.5"/>
<circle cx="1364.9" cy="868.7" r="2.5"/>
<circle cx="1400.5" cy="769.8" r="1.0"/>
<circle cx="1400.5" cy="798.7" r="1.0"/>
<circle cx="1400.5" cy="801.2" r="1.0"/>
<circle cx="1400.5" cy="850.0" r="1.0"/>
<circle cx="1081.6" cy="914.4" r="6.1" fill="#b3a514"/>
<polyline class="s" points="989.9,913.9 998.8,921.5 1008.9,925.3 1016.4,930.3 1029.1,941.7 1040.5,947.3" stroke-width="4.7"/>
<circle cx="1056.9" cy="948.0" r="3.3"/>
<polyline class="s" points="1056.9,950.5 1061.9,956.9 1072.0,960.6 1079.6,964.4" stroke-width="4.7"/>
<circle cx="1066.2" cy="948.0" r="2.5"/>
<circle cx="1074.6" cy="950.0" r="2.5"/>
<circle cx="1080.9" cy="954.8" r="2.5"/>
<circle cx="1085.4" cy="965.2" r="2.5"/>
<circle cx="1089.7" cy="967.7" r="2.5"/>
<circle cx="1094.8" cy="970.8" r="2.5"/>
<circle cx="1099.8" cy="972.0" r="2.5"/>
<circle cx="1102.4" cy="967.7" r="2.5"/>
<polyline class="s" points="1094.8,971.3 1102.4,972.0 1107.4,975.8 1111.2,983.4 1117.5,988.9 1123.8,991.0 1126.4,994.8 1140.3,1019.3" stroke-width="4.7"/>
<polyline class="s" points="1141.5,994.8 1155.4,1020.8 1163.0,1024.3 1174.4,1030.1 1178.2,1031.9" stroke-width="4.7"/>
<circle cx="1175.6" cy="1026.3" r="2.5"/>
<circle cx="1178.9" cy="1020.8" r="2.5"/>
<polyline class="s" points="1184.5,1032.7 1193.3,1036.4 1197.1,1038.5 1212.3,1069.3" stroke-width="4.7"/>
<polyline class="s" points="1213.5,1039.0 1227.4,1066.8 1233.8,1071.8 1243.9,1080.7 1246.9,1085.2" stroke-width="4.7"/>
<polyline class="s" points="1257.8,1086.2 1269.1,1094.1 1281.8,1103.4" stroke-width="4.7"/>
<circle cx="1097.8" cy="959.9" r="2.5"/>
<circle cx="1109.9" cy="959.9" r="2.5"/>
<circle cx="1112.0" cy="959.9" r="2.5"/>
<circle cx="1116.8" cy="966.5" r="2.5"/>
<circle cx="1165.5" cy="976.3" r="2.5"/>
<circle cx="1211.8" cy="991.2" r="2.5"/>
<circle cx="1245.6" cy="938.2" r="2.5"/>
<circle cx="1260.3" cy="953.8" r="2.5"/>
<circle cx="1228.7" cy="1029.6" r="2.5"/>
<circle cx="1241.8" cy="1023.8" r="2.5"/>
<circle cx="1272.4" cy="1038.5" r="2.5"/>
<circle cx="1245.6" cy="938.2" r="2.5"/>
<circle cx="1260.2" cy="953.9" r="2.5"/>
<circle cx="1297.4" cy="937.2" r="2.5"/>
<circle cx="1311.6" cy="960.7" r="2.5"/>
<circle cx="1313.3" cy="960.7" r="2.5"/>
<circle cx="1352.5" cy="959.7" r="2.5"/>
<circle cx="1359.3" cy="959.7" r="2.5"/>
<circle cx="1362.6" cy="959.7" r="2.5"/>
<circle cx="1365.2" cy="959.7" r="2.5"/>
<circle cx="1384.1" cy="921.5" r="2.5"/>
<circle cx="1386.4" cy="961.7" r="2.5"/>
<circle cx="1396.8" cy="958.7" r="2.5"/>
<circle cx="1396.8" cy="964.2" r="2.5"/>
<circle cx="1387.9" cy="984.2" r="2.5"/>
<circle cx="1385.4" cy="990.0" r="2.5"/>
<circle cx="1338.1" cy="980.4" r="2.5"/>
<circle cx="1339.9" cy="982.2" r="2.5"/>
<circle cx="1344.9" cy="978.9" r="2.5"/>
<circle cx="1350.5" cy="981.2" r="2.5"/>
<circle cx="1345.7" cy="986.7" r="2.5"/>
<circle cx="1388.7" cy="1025.7" r="2.5"/>
<circle cx="1388.7" cy="1028.2" r="2.5"/>
<circle cx="1242.0" cy="1023.9" r="2.5"/>
<circle cx="1317.6" cy="1025.2" r="2.5"/>
<circle cx="1330.3" cy="1032.0" r="2.5"/>
<circle cx="1272.6" cy="1038.6" r="2.5"/>
<circle cx="1373.2" cy="1086.3" r="2.5"/>
<circle cx="1353.8" cy="1092.9" r="2.5"/>
<circle cx="1290.6" cy="1087.1" r="2.5"/>
<circle cx="1295.1" cy="1083.8" r="2.5"/>
<circle cx="1298.4" cy="1091.9" r="2.5"/>
<circle cx="1299.7" cy="1101.0" r="2.5"/>
<circle cx="1307.0" cy="1086.6" r="2.5"/>
<circle cx="1308.8" cy="1086.6" r="2.5"/>
<circle cx="1350.5" cy="1121.7" r="2.5"/>
<circle cx="1351.3" cy="1125.0" r="2.5"/>
<polyline class="s" points="1240.0,1077.0 1246.3,1085.1" stroke-width="4.7"/>
<polyline class="s" points="1257.7,1086.3 1265.3,1090.9 1275.4,1101.0 1281.7,1103.0 1288.0,1102.3 1294.4,1108.6 1300.7,1109.9" stroke-width="4.7"/>
<polyline class="s" points="1306.2,1110.6 1315.9,1113.7 1326.0,1117.4 1336.1,1125.0 1343.7,1130.1 1351.3,1133.9 1362.6,1138.9" stroke-width="4.7"/>
<polyline class="s" points="1367.7,1139.7 1374.0,1145.3 1379.8,1150.8" stroke-width="4.7"/>
<polyline class="s" points="1390.4,1151.6 1394.2,1156.6 1400.6,1158.4" stroke-width="4.7"/>
<circle cx="1391.7" cy="1151.6" r="3.0"/>
<circle cx="1400.1" cy="1149.1" r="2.5"/>
<circle cx="1400.1" cy="1141.0" r="1.3"/>
<line class="s" x1="1380.0" y1="18.3" x2="1400.0" y2="18.3" stroke-width="5.6"/>
<circle cx="1400.3" cy="18.3" r="15.6" fill="#e22b00"/>
<circle cx="1400.2" cy="168.5" r="15.6" fill="#e22b00"/>
<circle cx="1400.2" cy="184.3" r="15.6" fill="#003f44"/>
<circle cx="1400.2" cy="201.1" r="15.6" fill="#e22b00"/>
</g>
<g>
<text transform="translate(189.5 1225.0) scale(1.0 1.07)" text-anchor="middle">0</text>
<text transform="translate(415.3 1225.0) scale(1.0 1.07)" text-anchor="middle">200</text>
<text transform="translate(641.2 1225.0) scale(1.0 1.07)" text-anchor="middle">400</text>
<text transform="translate(867.0 1225.0) scale(1.0 1.07)" text-anchor="middle">600</text>
<text transform="translate(1092.8 1225.0) scale(1.0 1.07)" text-anchor="middle">800</text>
<text transform="translate(1318.7 1225.0) scale(1.0 1.07)" text-anchor="middle">1000</text>
<text transform="translate(173.6 36.0) scale(1.0 1.07)" text-anchor="end">0</text>
<text transform="translate(171.0 148.9) scale(1.0 1.07)" text-anchor="end">100</text>
<text transform="translate(171.0 261.8) scale(1.0 1.07)" text-anchor="end">200</text>
<text transform="translate(171.0 374.7) scale(1.0 1.07)" text-anchor="end">300</text>
<text transform="translate(171.0 487.6) scale(1.0 1.07)" text-anchor="end">400</text>
<text transform="translate(171.0 600.5) scale(1.0 1.07)" text-anchor="end">500</text>
<text transform="translate(171.0 713.3) scale(1.0 1.07)" text-anchor="end">600</text>
<text transform="translate(171.0 826.2) scale(1.0 1.07)" text-anchor="end">700</text>
<text transform="translate(171.0 939.1) scale(1.0 1.07)" text-anchor="end">800</text>
<text transform="translate(171.0 1052.0) scale(1.0 1.07)" text-anchor="end">900</text>
<text transform="translate(171.0 1164.9) scale(1.0 1.07)" text-anchor="end">1000</text>
<text class="cb" transform="translate(1519.3 1173.2) scale(1.0 1.04)" text-anchor="start">-40</text>
<text class="cb" transform="translate(1519.3 1030.7) scale(1.0 1.04)" text-anchor="start">-30</text>
<text class="cb" transform="translate(1519.3 888.1) scale(1.0 1.04)" text-anchor="start">-20</text>
<text class="cb" transform="translate(1519.3 745.5) scale(1.0 1.04)" text-anchor="start">-10</text>
<text class="cb" transform="translate(1519.3 603.0) scale(1.0 1.04)" text-anchor="start">0</text>
<text class="cb" transform="translate(1519.3 460.5) scale(1.0 1.04)" text-anchor="start">10</text>
<text class="cb" transform="translate(1519.3 317.9) scale(1.0 1.04)" text-anchor="start">20</text>
<text class="cb" transform="translate(1519.3 175.4) scale(1.0 1.04)" text-anchor="start">30</text>
<text class="cb" transform="translate(1519.3 32.8) scale(1.0 1.04)" text-anchor="start">40</text>
<text class="lab" transform="translate(787.9 1287.8) scale(1.012 1.05)" text-anchor="middle">Number of columns/reactions</text>
<text class="lab" transform="translate(798.5 1354.4) scale(1.012 1.05)" text-anchor="middle">(4707 nonzero elements)</text>
<text class="lab" transform="translate(40.6 595.0) rotate(-90) scale(1.012 1.05)" text-anchor="middle">Number of rows/metabolites</text>
</g>
</svg>
</body></html>
